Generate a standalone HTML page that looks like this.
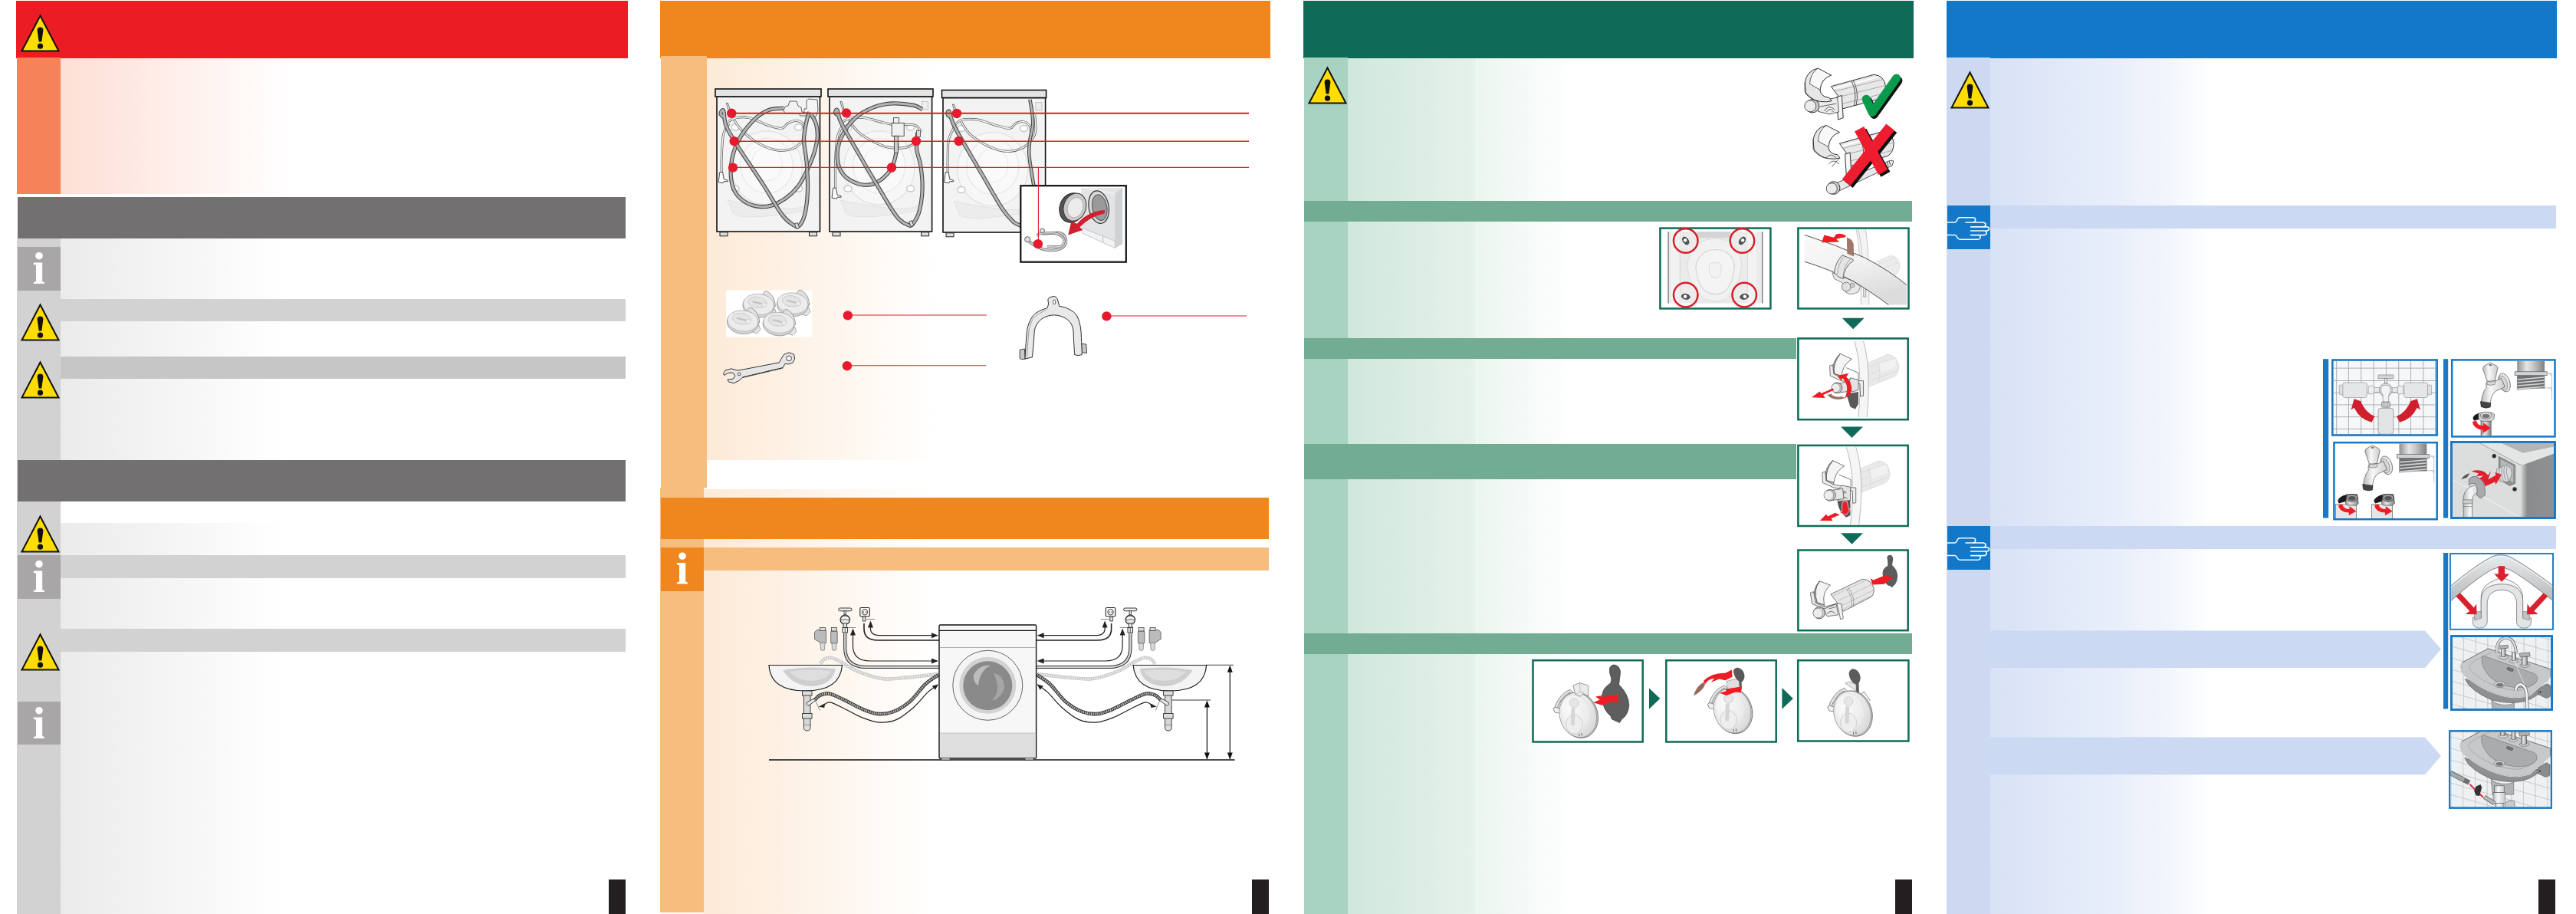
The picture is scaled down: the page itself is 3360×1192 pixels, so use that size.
<!DOCTYPE html>
<html><head><meta charset="utf-8">
<style>
html,body{margin:0;padding:0;background:#fff;}
body{width:3360px;height:1192px;position:relative;overflow:hidden;font-family:"Liberation Sans",sans-serif;}
.a{position:absolute;}
svg{position:absolute;overflow:visible;}
</style></head><body>
<svg width="0" height="0" style="position:absolute">
<defs>
<g id="warn"><path d="M25.5 1.5 L49.5 47.5 L1.5 47.5 Z" fill="#ffdd00" stroke="#111" stroke-width="2" stroke-linejoin="miter"/><path d="M21.6 20.5 Q21.6 16.5 25.5 16.5 Q29.4 16.5 29.4 20.5 L27.3 35.5 L23.7 35.5 Z" fill="#111"/><circle cx="25.5" cy="41.2" r="3.6" fill="#111"/></g>
<g id="info"><circle cx="28" cy="11.7" r="4.8" fill="#fff"/><path d="M20.8 20.5 L32.2 20.5 L32.2 45 L35 46.3 L35 48 L20.8 48 L20.8 46.3 L24 45 L24 23.8 L20.8 22.8 Z" fill="#fff"/></g>
<g id="hand" fill="none" stroke="#f2fbff" stroke-width="1.65" stroke-linecap="round" stroke-linejoin="round"><path d="M0 22 L9.5 22 Q11.5 22 12.5 19.5 Q13.8 15.7 16 15.7 L34 15.7 Q37 16 36.5 19.5 Q36.3 22 34 22"/><path d="M24 22 L47 22 Q50.5 23 50 25 Q49.5 27.8 47.5 27.9"/><path d="M30.6 27.9 L51.5 27.9 Q54.5 28.3 54.5 30.5 Q54.3 33 51 33 L30.6 33"/><path d="M50 33 Q52 35.5 50.5 37.5 Q49.5 38.6 48 38.6 L30.6 38.6"/><path d="M42 38.6 Q44 41 42.5 43 Q41.5 44.2 40 44.2 L16.5 44.2 Q14 44 12.5 41 Q11.5 38.5 9.5 38.5 L0 38.5"/></g>
</defs></svg>

<!-- PANEL 1 -->
<div class="a" style="left:21px;top:1px;width:798px;height:75px;background:#ec1c24"></div>
<div class="a" style="left:22px;top:75px;width:57px;height:178px;background:#f58258"></div>
<div class="a" style="left:79px;top:76px;width:296px;height:177px;background:linear-gradient(90deg,#fddfd5,#fff)"></div>
<div class="a" style="left:22px;top:311px;width:57px;height:881px;background:#d2d2d2"></div>
<div class="a" style="left:79px;top:311px;width:292px;height:289px;background:linear-gradient(90deg,#ebebeb,#fff)"></div>
<div class="a" style="left:79px;top:682px;width:292px;height:510px;background:linear-gradient(90deg,#ebebeb,#fff)"></div>
<div class="a" style="left:23px;top:257px;width:793px;height:54px;background:#727071"></div>
<div class="a" style="left:23px;top:600px;width:793px;height:54px;background:#727071"></div>
<div class="a" style="left:79px;top:390px;width:737px;height:29px;background:#d2d2d2"></div>
<div class="a" style="left:79px;top:465px;width:737px;height:29px;background:#c6c6c6"></div>
<div class="a" style="left:79px;top:724px;width:737px;height:30px;background:#d2d2d2"></div>
<div class="a" style="left:79px;top:820px;width:737px;height:30px;background:#d2d2d2"></div>
<div class="a" style="left:23px;top:322px;width:56px;height:57px;background:#a8a6a7"></div>
<div class="a" style="left:23px;top:724px;width:56px;height:57px;background:#a8a6a7"></div>
<div class="a" style="left:23px;top:915px;width:56px;height:56px;background:#a8a6a7"></div>
<div class="a" style="left:794px;top:1147px;width:22px;height:45px;background:#231f20"></div>
<svg style="left:27px;top:19px" width="51" height="49"><use href="#warn"/></svg>
<svg style="left:27px;top:396px" width="51" height="49"><use href="#warn"/></svg>
<svg style="left:27px;top:471px" width="51" height="49"><use href="#warn"/></svg>
<svg style="left:27px;top:672px" width="51" height="49"><use href="#warn"/></svg>
<svg style="left:27px;top:826px" width="51" height="49"><use href="#warn"/></svg>
<svg style="left:23px;top:322px" width="56" height="57"><use href="#info"/></svg>
<svg style="left:23px;top:724px" width="56" height="57"><use href="#info"/></svg>
<svg style="left:23px;top:915px" width="56" height="57"><use href="#info"/></svg>

<!-- PANEL 2 -->
<div class="a" style="left:922px;top:76px;width:300px;height:524px;background:linear-gradient(90deg,#fdead7,#fff)"></div>
<div class="a" style="left:918px;top:638px;width:300px;height:554px;background:linear-gradient(90deg,#fdead7,#fff)"></div>
<div class="a" style="left:861px;top:1px;width:796px;height:75px;background:#f0861e"></div>
<div class="a" style="left:862px;top:73px;width:60px;height:563px;background:#f7bd7f"></div>
<div class="a" style="left:861px;top:636px;width:57px;height:554px;background:#f7bd7f"></div>
<div class="a" style="left:862px;top:649px;width:793px;height:54px;background:#f0861e"></div>
<div class="a" style="left:918px;top:714px;width:737px;height:30px;background:#f7bd7f"></div>
<div class="a" style="left:862px;top:714px;width:56px;height:57px;background:#f0861e"></div>
<svg style="left:862px;top:714px" width="56" height="57"><use href="#info" y="-0.5"/></svg>
<div class="a" style="left:1633px;top:1147px;width:22px;height:45px;background:#231f20"></div>
<svg style="left:0;top:0" width="3360" height="1192" viewBox="0 0 3360 1192">
<rect x="935.0" y="126.0" width="134.5" height="176.0" fill="#f3f3f3" stroke="#111" stroke-width="1.6"/><ellipse cx="1000.2" cy="219.0" rx="46" ry="48" fill="#f7f7f7" stroke="#e4e4e4" stroke-width="1.5"/><ellipse cx="1000.2" cy="216.0" rx="34" ry="36" fill="#f9f9f9" stroke="#e6e6e6" stroke-width="1.2"/><ellipse cx="1000.2" cy="214.0" rx="20" ry="22" fill="#fafafa" stroke="#e8e8e8" stroke-width="1"/><path d="M949.0 261.0 q106.5 22 106.5 0 l-6 14 q-94.5 16 -94.5 0 Z" fill="#ececec" stroke="#e2e2e2"/><rect x="933.0" y="116.0" width="138.0" height="10" fill="#e4e4e4" stroke="#111" stroke-width="1.6"/><rect x="939.0" y="302.8" width="10" height="5" fill="#ddd" stroke="#222" stroke-width="1"/><rect x="1055.5" y="302.8" width="10" height="5" fill="#ddd" stroke="#222" stroke-width="1"/><ellipse cx="959.0" cy="166.0" rx="5" ry="4" fill="#fff" stroke="#c8c8c8" stroke-width="1.5"/><ellipse cx="1041.5" cy="166.0" rx="5" ry="4" fill="#fff" stroke="#c8c8c8" stroke-width="1.5"/><ellipse cx="959.0" cy="246.0" rx="5" ry="4" fill="#fff" stroke="#c8c8c8" stroke-width="1.5"/><ellipse cx="1041.5" cy="246.0" rx="5" ry="4" fill="#fff" stroke="#c8c8c8" stroke-width="1.5"/>
<path d="M949.9 158.6 C951.6 157.8 955.3 154.5 959.9 153.6 C964.5 152.8 970.3 152.0 977.4 153.6 C984.4 155.3 995.2 161.3 1002.3 163.6 C1009.4 165.9 1015.6 167.8 1019.8 167.3 C1023.9 166.9 1024.3 162.8 1027.3 161.1 C1030.2 159.4 1033.9 157.4 1037.2 157.4 C1040.6 157.4 1045.1 158.2 1047.2 161.1 C1049.3 164.0 1049.3 172.5 1049.7 174.8" fill="none" stroke="#555" stroke-width="3"/><path d="M949.9 158.6 C951.6 157.8 955.3 154.5 959.9 153.6 C964.5 152.8 970.3 152.0 977.4 153.6 C984.4 155.3 995.2 161.3 1002.3 163.6 C1009.4 165.9 1015.6 167.8 1019.8 167.3 C1023.9 166.9 1024.3 162.8 1027.3 161.1 C1030.2 159.4 1033.9 157.4 1037.2 157.4 C1040.6 157.4 1045.1 158.2 1047.2 161.1 C1049.3 164.0 1049.3 172.5 1049.7 174.8" fill="none" stroke="#f4f4f4" stroke-width="1.6"/>
<path d="M957.4 156.1 C959.1 158.4 962.0 164.6 967.4 169.8 C972.8 175.0 981.9 182.9 989.8 187.3 C997.7 191.7 1006.9 195.2 1014.8 196.0 C1022.7 196.9 1031.4 195.0 1037.2 192.3 C1043.1 189.6 1047.6 181.9 1049.7 179.8" fill="none" stroke="#555" stroke-width="3"/><path d="M957.4 156.1 C959.1 158.4 962.0 164.6 967.4 169.8 C972.8 175.0 981.9 182.9 989.8 187.3 C997.7 191.7 1006.9 195.2 1014.8 196.0 C1022.7 196.9 1031.4 195.0 1037.2 192.3 C1043.1 189.6 1047.6 181.9 1049.7 179.8" fill="none" stroke="#f4f4f4" stroke-width="1.6"/>
<path d="M951.2 161.1 C949.9 163.4 945.4 167.6 943.7 174.8 C942.0 182.1 941.6 196.4 941.2 204.8 C940.8 213.1 941.2 221.4 941.2 224.7" fill="none" stroke="#555" stroke-width="3"/><path d="M951.2 161.1 C949.9 163.4 945.4 167.6 943.7 174.8 C942.0 182.1 941.6 196.4 941.2 204.8 C940.8 213.1 941.2 221.4 941.2 224.7" fill="none" stroke="#f4f4f4" stroke-width="1.6"/>
<path d="M938.7 224.7 l4 0 l1.5 9 l5 1.5 l0 1.5 l-5 0 l-1 2 l-6 -1 Z" fill="#fff" stroke="#333" stroke-width="0.9"/>
<path d="M947.4 134.4 l2 0 l3 9 l-2 1 Z" fill="#fff" stroke="#444" stroke-width="0.8"/>
<path d="M1022 144 l2 -5 l4 -1 l2 -6 l9 0 l2 6 l4 2 l1 6 l6 1 l0 4 l-8 0 l-2 -3 l-18 0 Z" fill="#f2f2f2" stroke="#555" stroke-width="0.9"/>
<path d="M1052 131 l3 -2 l11 1 l1 14 l-3 8 l-8 0 l-3 -5 l-4 0 l0 -5 l3 0 Z" fill="#f5f5f5" stroke="#555" stroke-width="0.9"/>
<rect x="1398" y="0" width="0" height="0"/>
<path d="M1022.3 141.2 C1018.9 141.6 1009.0 140.9 1002.3 143.7 C995.7 146.4 989.0 150.5 982.4 157.4 C975.7 164.2 967.2 175.2 962.4 184.8 C957.6 194.4 954.7 204.8 953.7 214.7 C952.6 224.7 953.5 236.8 956.2 244.7 C958.9 252.6 963.9 258.0 969.9 262.1 C975.9 266.3 984.9 269.2 992.3 269.6 C999.8 270.0 1006.9 268.8 1014.8 264.6 C1022.7 260.5 1032.7 253.4 1039.7 244.7 C1046.8 235.9 1052.8 222.6 1057.2 212.2 C1061.6 201.9 1064.7 190.6 1065.9 182.3 C1067.2 174.0 1065.9 167.8 1064.7 162.4 C1063.4 157.0 1059.5 152.0 1058.4 149.9" fill="none" stroke="#4a4a4a" stroke-width="5.2" stroke-linecap="butt"/><path d="M1022.3 141.2 C1018.9 141.6 1009.0 140.9 1002.3 143.7 C995.7 146.4 989.0 150.5 982.4 157.4 C975.7 164.2 967.2 175.2 962.4 184.8 C957.6 194.4 954.7 204.8 953.7 214.7 C952.6 224.7 953.5 236.8 956.2 244.7 C958.9 252.6 963.9 258.0 969.9 262.1 C975.9 266.3 984.9 269.2 992.3 269.6 C999.8 270.0 1006.9 268.8 1014.8 264.6 C1022.7 260.5 1032.7 253.4 1039.7 244.7 C1046.8 235.9 1052.8 222.6 1057.2 212.2 C1061.6 201.9 1064.7 190.6 1065.9 182.3 C1067.2 174.0 1065.9 167.8 1064.7 162.4 C1063.4 157.0 1059.5 152.0 1058.4 149.9" fill="none" stroke="#b4b4b4" stroke-width="3.0" stroke-linecap="butt"/>
<path d="M944.9 153.6 C944.1 152.8 940.2 150.2 940.0 148.6 C939.7 147.1 942.4 141.7 943.7 144.4 C944.9 147.1 943.9 156.5 947.4 164.9 C951.0 173.3 957.0 182.3 964.9 194.8 C972.8 207.3 985.7 225.6 994.8 239.7 C1004.0 253.8 1013.1 270.7 1019.8 279.6 C1026.4 288.5 1031.0 290.8 1034.7 293.3 C1038.5 295.8 1039.7 296.8 1042.2 294.6 C1044.7 292.3 1047.8 287.1 1049.7 279.6 C1051.6 272.1 1053.0 260.9 1053.4 249.7 C1053.9 238.4 1053.0 223.5 1052.2 212.2 C1051.4 201.0 1048.5 191.5 1048.5 182.3 C1048.5 173.2 1051.0 163.4 1052.2 157.4 C1053.4 151.3 1055.3 148.0 1055.9 146.1" fill="none" stroke="#4a4a4a" stroke-width="5.2" stroke-linecap="butt"/><path d="M944.9 153.6 C944.1 152.8 940.2 150.2 940.0 148.6 C939.7 147.1 942.4 141.7 943.7 144.4 C944.9 147.1 943.9 156.5 947.4 164.9 C951.0 173.3 957.0 182.3 964.9 194.8 C972.8 207.3 985.7 225.6 994.8 239.7 C1004.0 253.8 1013.1 270.7 1019.8 279.6 C1026.4 288.5 1031.0 290.8 1034.7 293.3 C1038.5 295.8 1039.7 296.8 1042.2 294.6 C1044.7 292.3 1047.8 287.1 1049.7 279.6 C1051.6 272.1 1053.0 260.9 1053.4 249.7 C1053.9 238.4 1053.0 223.5 1052.2 212.2 C1051.4 201.0 1048.5 191.5 1048.5 182.3 C1048.5 173.2 1051.0 163.4 1052.2 157.4 C1053.4 151.3 1055.3 148.0 1055.9 146.1" fill="none" stroke="#b4b4b4" stroke-width="3.0" stroke-linecap="butt"/>
<rect x="1037.2" y="290.8" width="4" height="7" fill="#ddd" stroke="#444" stroke-width="0.8" transform="rotate(-20 1039.7 293.3)"/>
<rect x="1082.0" y="126.0" width="133.6" height="176.0" fill="#f3f3f3" stroke="#111" stroke-width="1.6"/><ellipse cx="1146.8" cy="219.0" rx="46" ry="48" fill="#f7f7f7" stroke="#e4e4e4" stroke-width="1.5"/><ellipse cx="1146.8" cy="216.0" rx="34" ry="36" fill="#f9f9f9" stroke="#e6e6e6" stroke-width="1.2"/><ellipse cx="1146.8" cy="214.0" rx="20" ry="22" fill="#fafafa" stroke="#e8e8e8" stroke-width="1"/><path d="M1096.0 261.0 q105.6 22 105.6 0 l-6 14 q-93.6 16 -93.6 0 Z" fill="#ececec" stroke="#e2e2e2"/><rect x="1080.0" y="116.0" width="137.0" height="10" fill="#e4e4e4" stroke="#111" stroke-width="1.6"/><rect x="1086.0" y="302.8" width="10" height="5" fill="#ddd" stroke="#222" stroke-width="1"/><rect x="1201.6" y="302.8" width="10" height="5" fill="#ddd" stroke="#222" stroke-width="1"/><ellipse cx="1106.0" cy="166.0" rx="5" ry="4" fill="#fff" stroke="#c8c8c8" stroke-width="1.5"/><ellipse cx="1187.6" cy="166.0" rx="5" ry="4" fill="#fff" stroke="#c8c8c8" stroke-width="1.5"/><ellipse cx="1106.0" cy="246.0" rx="5" ry="4" fill="#fff" stroke="#c8c8c8" stroke-width="1.5"/><ellipse cx="1187.6" cy="246.0" rx="5" ry="4" fill="#fff" stroke="#c8c8c8" stroke-width="1.5"/>
<path d="M1099.6 158.6 C1101.3 157.8 1105.0 154.5 1109.6 153.6 C1114.1 152.8 1120.0 152.6 1127.0 153.6 C1134.1 154.7 1145.7 158.4 1152.0 159.9 C1158.2 161.3 1162.4 161.9 1164.4 162.4" fill="none" stroke="#555" stroke-width="3"/><path d="M1099.6 158.6 C1101.3 157.8 1105.0 154.5 1109.6 153.6 C1114.1 152.8 1120.0 152.6 1127.0 153.6 C1134.1 154.7 1145.7 158.4 1152.0 159.9 C1158.2 161.3 1162.4 161.9 1164.4 162.4" fill="none" stroke="#f4f4f4" stroke-width="1.6"/>
<path d="M1179.4 162.4 C1181.9 162.6 1190.6 161.9 1194.4 163.6 C1198.1 165.3 1200.6 170.9 1201.9 172.3" fill="none" stroke="#555" stroke-width="3"/><path d="M1179.4 162.4 C1181.9 162.6 1190.6 161.9 1194.4 163.6 C1198.1 165.3 1200.6 170.9 1201.9 172.3" fill="none" stroke="#f4f4f4" stroke-width="1.6"/>
<path d="M1107.1 156.1 C1109.2 158.8 1114.1 167.6 1119.6 172.3 C1125.0 177.1 1132.9 181.5 1139.5 184.8 C1146.2 188.1 1152.4 191.0 1159.5 192.3 C1166.5 193.5 1175.7 193.5 1181.9 192.3 C1188.1 191.0 1194.4 186.1 1196.9 184.8" fill="none" stroke="#555" stroke-width="3"/><path d="M1107.1 156.1 C1109.2 158.8 1114.1 167.6 1119.6 172.3 C1125.0 177.1 1132.9 181.5 1139.5 184.8 C1146.2 188.1 1152.4 191.0 1159.5 192.3 C1166.5 193.5 1175.7 193.5 1181.9 192.3 C1188.1 191.0 1194.4 186.1 1196.9 184.8" fill="none" stroke="#f4f4f4" stroke-width="1.6"/>
<path d="M1099.6 162.4 C1098.3 165.3 1093.8 171.5 1092.1 179.8 C1090.4 188.1 1090.0 201.4 1089.6 212.2 C1089.2 223.1 1089.6 239.3 1089.6 244.7" fill="none" stroke="#555" stroke-width="3"/><path d="M1099.6 162.4 C1098.3 165.3 1093.8 171.5 1092.1 179.8 C1090.4 188.1 1090.0 201.4 1089.6 212.2 C1089.2 223.1 1089.6 239.3 1089.6 244.7" fill="none" stroke="#f4f4f4" stroke-width="1.6"/>
<path d="M1086.6 245.2 l4 0 l1.5 9 l5 1.5 l0 1.5 l-5 0 l-1 2 l-6 -1 Z" fill="#fff" stroke="#333" stroke-width="0.9"/>
<path d="M1095.9 132.4 l2 0 l3 9 l-2 1 Z" fill="#fff" stroke="#444" stroke-width="0.8"/>
<rect x="1202.4" y="132.4" width="8" height="10" fill="#eee" stroke="#bbb" stroke-width="0.8"/>
<path d="M1203.1 142.9 C1201.2 142.0 1198.3 138.7 1191.9 137.4 C1185.4 136.1 1173.2 134.5 1164.4 134.9 C1155.7 135.3 1147.8 136.6 1139.5 139.9 C1131.2 143.2 1121.6 148.2 1114.6 154.9 C1107.5 161.5 1100.8 171.5 1097.1 179.8 C1093.4 188.1 1091.7 196.9 1092.1 204.8 C1092.5 212.7 1095.0 221.4 1099.6 227.2 C1104.2 233.0 1112.9 237.6 1119.6 239.7 C1126.2 241.8 1133.3 241.8 1139.5 239.7 C1145.7 237.6 1152.6 231.8 1157.0 227.2 C1161.3 222.6 1163.6 217.7 1165.7 212.2 C1167.8 206.8 1168.8 199.8 1169.4 194.8 C1170.1 189.8 1169.4 184.4 1169.4 182.3" fill="none" stroke="#4a4a4a" stroke-width="5.2" stroke-linecap="butt"/><path d="M1203.1 142.9 C1201.2 142.0 1198.3 138.7 1191.9 137.4 C1185.4 136.1 1173.2 134.5 1164.4 134.9 C1155.7 135.3 1147.8 136.6 1139.5 139.9 C1131.2 143.2 1121.6 148.2 1114.6 154.9 C1107.5 161.5 1100.8 171.5 1097.1 179.8 C1093.4 188.1 1091.7 196.9 1092.1 204.8 C1092.5 212.7 1095.0 221.4 1099.6 227.2 C1104.2 233.0 1112.9 237.6 1119.6 239.7 C1126.2 241.8 1133.3 241.8 1139.5 239.7 C1145.7 237.6 1152.6 231.8 1157.0 227.2 C1161.3 222.6 1163.6 217.7 1165.7 212.2 C1167.8 206.8 1168.8 199.8 1169.4 194.8 C1170.1 189.8 1169.4 184.4 1169.4 182.3" fill="none" stroke="#b4b4b4" stroke-width="3.0" stroke-linecap="butt"/>
<path d="M1094.6 151.1 C1093.8 150.5 1090.0 148.6 1089.6 147.4 C1089.2 146.1 1090.9 141.6 1092.1 143.7 C1093.4 145.7 1092.5 150.5 1097.1 159.9 C1101.7 169.2 1111.7 186.1 1119.6 199.8 C1127.4 213.5 1136.2 228.5 1144.5 242.2 C1152.8 255.9 1162.8 273.6 1169.4 282.1 C1176.1 290.6 1180.9 291.7 1184.4 293.3 C1187.9 295.0 1188.1 295.2 1190.6 292.1 C1193.1 288.9 1197.3 282.5 1199.4 274.6 C1201.5 266.7 1202.9 254.7 1203.1 244.7 C1203.3 234.7 1201.9 223.1 1200.6 214.7 C1199.4 206.4 1196.3 201.9 1195.6 194.8 C1195.0 187.7 1196.7 176.1 1196.9 172.3" fill="none" stroke="#4a4a4a" stroke-width="5.2" stroke-linecap="butt"/><path d="M1094.6 151.1 C1093.8 150.5 1090.0 148.6 1089.6 147.4 C1089.2 146.1 1090.9 141.6 1092.1 143.7 C1093.4 145.7 1092.5 150.5 1097.1 159.9 C1101.7 169.2 1111.7 186.1 1119.6 199.8 C1127.4 213.5 1136.2 228.5 1144.5 242.2 C1152.8 255.9 1162.8 273.6 1169.4 282.1 C1176.1 290.6 1180.9 291.7 1184.4 293.3 C1187.9 295.0 1188.1 295.2 1190.6 292.1 C1193.1 288.9 1197.3 282.5 1199.4 274.6 C1201.5 266.7 1202.9 254.7 1203.1 244.7 C1203.3 234.7 1201.9 223.1 1200.6 214.7 C1199.4 206.4 1196.3 201.9 1195.6 194.8 C1195.0 187.7 1196.7 176.1 1196.9 172.3" fill="none" stroke="#b4b4b4" stroke-width="3.0" stroke-linecap="butt"/>
<rect x="1163.2" y="160.4" width="16" height="17" fill="#f0f0f0" stroke="#444" stroke-width="0.9"/>
<rect x="1165.4" y="153.6" width="7" height="7" fill="#f0f0f0" stroke="#444" stroke-width="0.9"/>
<rect x="1166.4" y="177.3" width="5" height="22" fill="#ccc" stroke="#444" stroke-width="0.9"/>
<rect x="1195.6" y="170.3" width="5" height="8" fill="#ddd" stroke="#444" stroke-width="0.8"/>
<rect x="1186.4" y="288.3" width="4" height="7" fill="#ddd" stroke="#444" stroke-width="0.8" transform="rotate(-20 1188.1 290.8)"/>
<rect x="1230.0" y="127.5" width="133.6" height="175.5" fill="#f3f3f3" stroke="#111" stroke-width="1.6"/><ellipse cx="1294.8" cy="220.5" rx="46" ry="48" fill="#f7f7f7" stroke="#e4e4e4" stroke-width="1.5"/><ellipse cx="1294.8" cy="217.5" rx="34" ry="36" fill="#f9f9f9" stroke="#e6e6e6" stroke-width="1.2"/><ellipse cx="1294.8" cy="215.5" rx="20" ry="22" fill="#fafafa" stroke="#e8e8e8" stroke-width="1"/><path d="M1244.0 262.5 q105.6 22 105.6 0 l-6 14 q-93.6 16 -93.6 0 Z" fill="#ececec" stroke="#e2e2e2"/><rect x="1228.5" y="117.5" width="136.1" height="10" fill="#e4e4e4" stroke="#111" stroke-width="1.6"/><rect x="1234.0" y="303.8" width="10" height="5" fill="#ddd" stroke="#222" stroke-width="1"/><rect x="1349.6" y="303.8" width="10" height="5" fill="#ddd" stroke="#222" stroke-width="1"/><ellipse cx="1254.0" cy="167.5" rx="5" ry="4" fill="#fff" stroke="#c8c8c8" stroke-width="1.5"/><ellipse cx="1335.6" cy="167.5" rx="5" ry="4" fill="#fff" stroke="#c8c8c8" stroke-width="1.5"/><ellipse cx="1254.0" cy="247.5" rx="5" ry="4" fill="#fff" stroke="#c8c8c8" stroke-width="1.5"/><ellipse cx="1335.6" cy="247.5" rx="5" ry="4" fill="#fff" stroke="#c8c8c8" stroke-width="1.5"/>
<path d="M1246.1 162.4 C1247.6 161.3 1250.1 157.2 1254.9 156.1 C1259.7 155.1 1267.3 154.9 1274.8 156.1 C1282.3 157.4 1292.7 161.7 1299.8 163.6 C1306.8 165.5 1313.1 167.8 1317.2 167.3 C1321.4 166.9 1321.8 162.6 1324.7 161.1 C1327.6 159.7 1331.6 158.0 1334.7 158.6 C1337.8 159.2 1341.8 161.3 1343.4 164.9 C1345.1 168.4 1344.5 177.3 1344.7 179.8" fill="none" stroke="#555" stroke-width="3"/><path d="M1246.1 162.4 C1247.6 161.3 1250.1 157.2 1254.9 156.1 C1259.7 155.1 1267.3 154.9 1274.8 156.1 C1282.3 157.4 1292.7 161.7 1299.8 163.6 C1306.8 165.5 1313.1 167.8 1317.2 167.3 C1321.4 166.9 1321.8 162.6 1324.7 161.1 C1327.6 159.7 1331.6 158.0 1334.7 158.6 C1337.8 159.2 1341.8 161.3 1343.4 164.9 C1345.1 168.4 1344.5 177.3 1344.7 179.8" fill="none" stroke="#f4f4f4" stroke-width="1.6"/>
<path d="M1253.6 158.6 C1255.5 161.3 1259.2 169.6 1264.9 174.8 C1270.5 180.0 1279.4 186.1 1287.3 189.8 C1295.2 193.5 1304.3 196.9 1312.2 197.3 C1320.1 197.7 1328.9 195.2 1334.7 192.3 C1340.5 189.4 1344.5 183.6 1347.2 179.8 C1349.9 176.1 1350.5 174.8 1350.9 169.8 C1351.3 164.9 1349.9 153.2 1349.7 149.9" fill="none" stroke="#555" stroke-width="3"/><path d="M1253.6 158.6 C1255.5 161.3 1259.2 169.6 1264.9 174.8 C1270.5 180.0 1279.4 186.1 1287.3 189.8 C1295.2 193.5 1304.3 196.9 1312.2 197.3 C1320.1 197.7 1328.9 195.2 1334.7 192.3 C1340.5 189.4 1344.5 183.6 1347.2 179.8 C1349.9 176.1 1350.5 174.8 1350.9 169.8 C1351.3 164.9 1349.9 153.2 1349.7 149.9" fill="none" stroke="#f4f4f4" stroke-width="1.6"/>
<path d="M1244.9 164.9 C1243.7 167.8 1238.9 175.7 1237.4 182.3 C1236.0 189.0 1236.4 197.7 1236.2 204.8 C1236.0 211.8 1236.2 221.4 1236.2 224.7" fill="none" stroke="#555" stroke-width="3"/><path d="M1244.9 164.9 C1243.7 167.8 1238.9 175.7 1237.4 182.3 C1236.0 189.0 1236.4 197.7 1236.2 204.8 C1236.0 211.8 1236.2 221.4 1236.2 224.7" fill="none" stroke="#f4f4f4" stroke-width="1.6"/>
<path d="M1233.2 224.7 l4 0 l1.5 9 l5 1.5 l0 1.5 l-5 0 l-1 2 l-6 -1 Z" fill="#fff" stroke="#333" stroke-width="0.9"/>
<path d="M1242.4 136.2 l2 0 l3 9 l-2 1 Z" fill="#fff" stroke="#444" stroke-width="0.8"/>
<rect x="1350.9" y="133.7" width="8" height="10" fill="#eee" stroke="#bbb" stroke-width="0.8"/>
<path d="M1343.4 129.9 C1343.8 132.4 1345.3 139.5 1345.9 144.9 C1346.5 150.3 1347.6 156.1 1347.2 162.4 C1346.8 168.6 1344.3 176.1 1343.4 182.3 C1342.6 188.6 1342.0 193.5 1342.2 199.8 C1342.4 206.0 1343.6 212.7 1344.7 219.7 C1345.7 226.8 1347.8 238.4 1348.4 242.2" fill="none" stroke="#4a4a4a" stroke-width="4.6" stroke-linecap="butt"/><path d="M1343.4 129.9 C1343.8 132.4 1345.3 139.5 1345.9 144.9 C1346.5 150.3 1347.6 156.1 1347.2 162.4 C1346.8 168.6 1344.3 176.1 1343.4 182.3 C1342.6 188.6 1342.0 193.5 1342.2 199.8 C1342.4 206.0 1343.6 212.7 1344.7 219.7 C1345.7 226.8 1347.8 238.4 1348.4 242.2" fill="none" stroke="#b4b4b4" stroke-width="2.4" stroke-linecap="butt"/>
<path d="M1241.9 153.6 C1240.9 153.0 1236.8 151.3 1236.2 149.9 C1235.5 148.5 1236.7 143.3 1237.9 145.4 C1239.2 147.5 1240.4 155.4 1243.7 162.4 C1246.9 169.3 1250.9 176.1 1257.4 187.3 C1263.8 198.5 1274.0 215.6 1282.3 229.7 C1290.6 243.8 1300.6 262.1 1307.3 272.1 C1313.9 282.1 1317.9 285.7 1322.2 289.6 C1326.6 293.4 1331.6 294.1 1333.4 295.1" fill="none" stroke="#4a4a4a" stroke-width="5.2" stroke-linecap="butt"/><path d="M1241.9 153.6 C1240.9 153.0 1236.8 151.3 1236.2 149.9 C1235.5 148.5 1236.7 143.3 1237.9 145.4 C1239.2 147.5 1240.4 155.4 1243.7 162.4 C1246.9 169.3 1250.9 176.1 1257.4 187.3 C1263.8 198.5 1274.0 215.6 1282.3 229.7 C1290.6 243.8 1300.6 262.1 1307.3 272.1 C1313.9 282.1 1317.9 285.7 1322.2 289.6 C1326.6 293.4 1331.6 294.1 1333.4 295.1" fill="none" stroke="#b4b4b4" stroke-width="3.0" stroke-linecap="butt"/>
<path d="M954 147.8 H1629" stroke="#d8202a" stroke-width="2"/>
<path d="M957 184.2 H1629" stroke="#d8202a" stroke-width="1.5"/>
<path d="M956 218.4 H1629" stroke="#d8202a" stroke-width="1.1"/>
<circle cx="954.2" cy="147.8" r="6.2" fill="#e8192c"/>
<circle cx="957.7" cy="184.2" r="6.2" fill="#e8192c"/>
<circle cx="956.0" cy="218.6" r="6.2" fill="#e8192c"/>
<circle cx="1104.0" cy="147.4" r="6.2" fill="#e8192c"/>
<circle cx="1195.0" cy="184.0" r="6.2" fill="#e8192c"/>
<circle cx="1163.0" cy="218.5" r="6.2" fill="#e8192c"/>
<circle cx="1248.0" cy="148.0" r="6.2" fill="#e8192c"/>
<circle cx="1250.6" cy="184.0" r="6.2" fill="#e8192c"/>
<rect x="1331.3" y="242.2" width="137.5" height="99.5" fill="#fff" stroke="#111" stroke-width="2.2"/>
<polygon points="1410.4,244.9 1464.2,244.9 1464.2,317.8 1454.3,323.8 1410.4,297.3" fill="#e2e4e6"/>
<polygon points="1454.3,252.4 1464.2,244.9 1464.2,317.8 1454.3,323.8" fill="#cfd2d5"/>
<polygon points="1410.4,244.9 1427.2,244.9 1454.3,252.4 1454.3,254.2" fill="#eeeff0"/>
<polygon points="1411.3,297.3 1454.3,314.1 1454.3,323.5 1411.3,303.8" fill="#f3f3f3" stroke="#bbb" stroke-width="0.8"/>
<path d="M1438.4 307.9 C1438.5 309.3 1438.7 314.6 1438.8 316.0" stroke="#aaa" stroke-width="0.8" fill="none"/>
<ellipse cx="1433.2" cy="270.1" rx="13" ry="21.5" fill="#d8d8d8" stroke="#333" stroke-width="1.2" transform="rotate(-10 1433.2 270.1)"/>
<ellipse cx="1434.3" cy="270.7" rx="9.5" ry="17" fill="#9a9a9a" stroke="#555" stroke-width="1" transform="rotate(-10 1434.3 270.7)"/>
<ellipse cx="1398.2" cy="271.1" rx="16" ry="19.5" fill="#555" stroke="#222" stroke-width="1" transform="rotate(18 1398.2 271.1)"/>
<ellipse cx="1401.9" cy="270.1" rx="14.5" ry="18.5" fill="#c9c9c9" stroke="#333" stroke-width="1" transform="rotate(18 1401.9 270.1)"/>
<ellipse cx="1402.5" cy="270.7" rx="10" ry="13.5" fill="#ececec" stroke="#aaa" stroke-width="0.8" transform="rotate(18 1402.5 270.7)"/>
<path d=" Z" fill="#d0202e"/>
<path d="M1441.2 273.9 Q1419.7 274.8 1404.8 291.7 L1397.3 288.9 L1393.2 306.6 L1412.2 300.1 L1408.5 296.3 Q1421.6 282.3 1440.7 278.2 Z" fill="#d0202e"/>
<path d="M1340.2 312.2 C1341.0 313.0 1341.3 314.7 1344.9 316.9 C1348.5 319.1 1356.1 323.9 1361.7 325.3 C1367.3 326.8 1374.0 326.6 1378.6 325.7 C1383.1 324.8 1387.0 322.3 1388.9 319.7 C1390.7 317.2 1390.9 313.0 1389.8 310.4 C1388.7 307.7 1387.0 304.8 1382.3 303.8 C1377.6 302.9 1365.6 305.1 1361.7 304.8 C1357.8 304.4 1359.4 302.4 1358.9 301.9" fill="none" stroke="#666" stroke-width="3.6" stroke-linecap="butt"/><path d="M1340.2 312.2 C1341.0 313.0 1341.3 314.7 1344.9 316.9 C1348.5 319.1 1356.1 323.9 1361.7 325.3 C1367.3 326.8 1374.0 326.6 1378.6 325.7 C1383.1 324.8 1387.0 322.3 1388.9 319.7 C1390.7 317.2 1390.9 313.0 1389.8 310.4 C1388.7 307.7 1387.0 304.8 1382.3 303.8 C1377.6 302.9 1365.6 305.1 1361.7 304.8 C1357.8 304.4 1359.4 302.4 1358.9 301.9" fill="none" stroke="#d0d0d0" stroke-width="2.0" stroke-linecap="butt"/>
<path d="M1353.3 308.5 C1353.8 307.9 1352.5 305.5 1356.1 304.8 C1359.7 304.0 1370.0 303.2 1374.8 303.8 C1379.7 304.4 1382.9 306.5 1385.1 308.5 C1387.3 310.5 1388.4 313.8 1387.9 316.0 C1387.4 318.2 1386.0 320.7 1382.3 321.6 C1378.6 322.5 1368.3 321.6 1365.5 321.6" fill="none" stroke="#777" stroke-width="3.2" stroke-linecap="butt"/><path d="M1353.3 308.5 C1353.8 307.9 1352.5 305.5 1356.1 304.8 C1359.7 304.0 1370.0 303.2 1374.8 303.8 C1379.7 304.4 1382.9 306.5 1385.1 308.5 C1387.3 310.5 1388.4 313.8 1387.9 316.0 C1387.4 318.2 1386.0 320.7 1382.3 321.6 C1378.6 322.5 1368.3 321.6 1365.5 321.6" fill="none" stroke="#d8d8d8" stroke-width="1.6" stroke-linecap="butt"/>
<circle cx="1340.2" cy="312.2" r="3.6" fill="#ddd" stroke="#666" stroke-width="1"/>
<circle cx="1359.5" cy="301.0" r="3" fill="#ddd" stroke="#666" stroke-width="1"/>
<path d="M1354.4 218.4 V318" stroke="#d8202a" stroke-width="1.1"/>
<circle cx="1353.9" cy="318.2" r="6.2" fill="#e8192c"/>
<rect x="947" y="378.5" width="112" height="61" fill="#fff"/>
<path d="M994.5 384.5 q3 -7 7 -4 q9 5 10 19 l-3 1 q-2 -11 -9 -14 Z" fill="#e0e0e0" stroke="#888" stroke-width="0.8"/><path d="M1001.5 405.5 l9 -3 l2 6 l-5 5 l-8 -3 Z" fill="#e6e6e6" stroke="#999" stroke-width="0.8"/><ellipse cx="989.5" cy="399.0" rx="20.5" ry="15" fill="#d4d4d4" stroke="#999" stroke-width="0.9" transform="rotate(6 989.5 397.5)"/><ellipse cx="989.5" cy="397.0" rx="20" ry="13.5" fill="#ececec" stroke="#aaa" stroke-width="0.7" transform="rotate(6 989.5 397.5)"/><ellipse cx="987.5" cy="394.5" rx="12" ry="7" fill="#e4e4e4" stroke="#c4c4c4" stroke-width="0.8" transform="rotate(8 989.5 397.5)"/><path d="M982.5 393.5 l12 3" stroke="#c0c0c0" stroke-width="2.2" stroke-linecap="round"/><circle cx="996.5" cy="397.5" r="3" fill="#eee" stroke="#c4c4c4" stroke-width="0.7"/>
<path d="M1038.9 383.0 q3 -7 7 -4 q9 5 10 19 l-3 1 q-2 -11 -9 -14 Z" fill="#e0e0e0" stroke="#888" stroke-width="0.8"/><path d="M1045.9 404.0 l9 -3 l2 6 l-5 5 l-8 -3 Z" fill="#e6e6e6" stroke="#999" stroke-width="0.8"/><ellipse cx="1033.9" cy="397.5" rx="20.5" ry="15" fill="#d4d4d4" stroke="#999" stroke-width="0.9" transform="rotate(6 1033.9 396.0)"/><ellipse cx="1033.9" cy="395.5" rx="20" ry="13.5" fill="#ececec" stroke="#aaa" stroke-width="0.7" transform="rotate(6 1033.9 396.0)"/><ellipse cx="1031.9" cy="393.0" rx="12" ry="7" fill="#e4e4e4" stroke="#c4c4c4" stroke-width="0.8" transform="rotate(8 1033.9 396.0)"/><path d="M1026.9 392.0 l12 3" stroke="#c0c0c0" stroke-width="2.2" stroke-linecap="round"/><circle cx="1040.9" cy="396.0" r="3" fill="#eee" stroke="#c4c4c4" stroke-width="0.7"/>
<path d="M973.9 406.0 q3 -7 7 -4 q9 5 10 19 l-3 1 q-2 -11 -9 -14 Z" fill="#e0e0e0" stroke="#888" stroke-width="0.8"/><path d="M980.9 427.0 l9 -3 l2 6 l-5 5 l-8 -3 Z" fill="#e6e6e6" stroke="#999" stroke-width="0.8"/><ellipse cx="968.9" cy="420.5" rx="20.5" ry="15" fill="#d4d4d4" stroke="#999" stroke-width="0.9" transform="rotate(6 968.9 419.0)"/><ellipse cx="968.9" cy="418.5" rx="20" ry="13.5" fill="#ececec" stroke="#aaa" stroke-width="0.7" transform="rotate(6 968.9 419.0)"/><ellipse cx="966.9" cy="416.0" rx="12" ry="7" fill="#e4e4e4" stroke="#c4c4c4" stroke-width="0.8" transform="rotate(8 968.9 419.0)"/><path d="M961.9 415.0 l12 3" stroke="#c0c0c0" stroke-width="2.2" stroke-linecap="round"/><circle cx="975.9" cy="419.0" r="3" fill="#eee" stroke="#c4c4c4" stroke-width="0.7"/>
<path d="M1020.7 408.3 q3 -7 7 -4 q9 5 10 19 l-3 1 q-2 -11 -9 -14 Z" fill="#e0e0e0" stroke="#888" stroke-width="0.8"/><path d="M1027.7 429.3 l9 -3 l2 6 l-5 5 l-8 -3 Z" fill="#e6e6e6" stroke="#999" stroke-width="0.8"/><ellipse cx="1015.7" cy="422.8" rx="20.5" ry="15" fill="#d4d4d4" stroke="#999" stroke-width="0.9" transform="rotate(6 1015.7 421.3)"/><ellipse cx="1015.7" cy="420.8" rx="20" ry="13.5" fill="#ececec" stroke="#aaa" stroke-width="0.7" transform="rotate(6 1015.7 421.3)"/><ellipse cx="1013.7" cy="418.3" rx="12" ry="7" fill="#e4e4e4" stroke="#c4c4c4" stroke-width="0.8" transform="rotate(8 1015.7 421.3)"/><path d="M1008.7 417.3 l12 3" stroke="#c0c0c0" stroke-width="2.2" stroke-linecap="round"/><circle cx="1022.7" cy="421.3" r="3" fill="#eee" stroke="#c4c4c4" stroke-width="0.7"/>
<polygon points="943.5,487.1 945.9,483.1 953.8,480.8 961.7,483.1 967.3,482.3 1016.4,472.8 1018.8,468.1 1022.8,462.1 1029.1,459.8 1035.5,462.1 1036.6,468.1 1033.9,473.2 1028.3,474.9 1023.9,474.4 1021.2,479.5 968.9,491.9 964.1,496.3 957.0,499.8 950.3,497.9 949.0,495.0 956.2,494.2 958.9,490.3 956.2,486.3 949.8,486.3 944.6,489.5" fill="#e6e6e6" stroke="#333" stroke-width="1" stroke-linejoin="round"/>
<path d="M968.9 492.3 L1021.2 480.0" stroke="#222" stroke-width="1.4" stroke-dasharray="1 0.8"/>
<circle cx="1029.1" cy="467.3" r="3.4" fill="#fdf3e8" stroke="#333" stroke-width="0.9"/>
<circle cx="964.1" cy="487.9" r="1.9" fill="#fdf3e8" stroke="#333" stroke-width="0.9"/>
<polygon points="1330.1,456.2 1336.4,454.9 1337.0,468.1 1332.6,468.7 1330.1,467.5" fill="#c8c8c8" stroke="#333" stroke-width="0.9"/>
<polygon points="1410.6,448.2 1416.9,449.0 1417.5,460.6 1411.3,459.6" fill="#c8c8c8" stroke="#333" stroke-width="0.9"/>
<path d="M1337.0 468.1 C1337.3 464.3 1337.7 452.6 1338.3 445.5 C1338.9 438.3 1339.2 431.0 1340.8 425.3 C1342.4 419.7 1345.1 414.9 1347.7 411.5 C1350.4 408.2 1353.5 406.9 1356.5 405.2 C1359.6 403.6 1364.4 402.3 1366.0 401.7 L1367.6 396.7 L1366.9 390.8 Q1367.2 387.4 1374.2 386.7 Q1378.6 386.4 1379.8 392.0 L1381.9 399.6L1381.9 399.6 C1383.4 399.9 1387.0 399.8 1390.5 401.4 C1394.0 403.1 1400.0 405.6 1403.1 409.6 C1406.2 413.6 1407.9 419.4 1409.1 425.3 C1410.4 431.3 1410.3 439.3 1410.6 445.5 C1411.0 451.7 1411.2 459.6 1411.3 462.5 L1406.2 463.7 L1401.6 462.5L1401.6 462.5 C1401.4 459.6 1401.0 451.4 1400.6 445.5 C1400.1 439.5 1400.7 431.6 1399.1 426.6 C1397.4 421.6 1394.4 418.2 1390.5 415.5 C1386.6 412.9 1380.4 411.0 1375.4 410.9 C1370.4 410.8 1364.5 412.3 1360.3 414.9 C1356.2 417.5 1352.5 421.5 1350.5 426.6 C1348.5 431.7 1349.0 438.9 1348.4 445.5 C1347.7 452.0 1346.8 462.5 1346.5 465.8 Z" fill="#e9e9e9" stroke="#2a2a2a" stroke-width="1"/>
<ellipse cx="1375.2" cy="393.9" rx="1.6" ry="3" fill="#fff" stroke="#333" stroke-width="0.8"/>
<path d="M1339.6 465.6 C1339.8 462.2 1340.3 452.0 1340.8 445.5 C1341.4 439.0 1341.5 431.9 1343.0 426.6 C1344.4 421.3 1345.9 417.2 1349.6 413.4 C1353.4 409.6 1362.7 405.3 1365.3 403.7" fill="none" stroke="#777" stroke-width="0.70" />
<path d="M1105.8 411.0 H1287.0" stroke="#d8202a" stroke-width="1.1"/>
<circle cx="1105.8" cy="411.4" r="6.2" fill="#e8192c"/>
<path d="M1104.9 476.8 H1286.0" stroke="#d8202a" stroke-width="1.1"/>
<circle cx="1104.9" cy="477.2" r="6.2" fill="#e8192c"/>
<path d="M1443.4 412.0 H1626.0" stroke="#d8202a" stroke-width="1.1"/>
<circle cx="1443.4" cy="412.4" r="6.2" fill="#e8192c"/>
<g><path d="M1003 867.5 L1098.5 867.5 Q1096 901 1050.5 901 Q1005 901 1003 867.5 Z" fill="#f4f4f4" stroke="#222" stroke-width="1.2"/>
<path d="M1021 874 Q1050 868 1090 872 Q1086 893 1060 895 Q1034 895 1021 874 Z" fill="#cfcfcf"/>
<path d="M1030 876 Q1055 872 1084 875 Q1080 886 1060 888 Q1040 888 1030 876 Z" fill="#dedede"/>
<rect x="1048.5" y="901" width="8.5" height="45" fill="#d8d8d8" stroke="#333" stroke-width="0.9"/>
<path d="M1048.5 946 v3 q0 4 4.2 4 q4.3 0 4.3 -4 v-3" fill="#ddd" stroke="#333" stroke-width="0.9"/>
<rect x="1046.5" y="930.5" width="12.5" height="6.5" fill="#ddd" stroke="#333" stroke-width="0.9"/>
<rect x="1046.5" y="901" width="12.5" height="6" fill="#ddd" stroke="#333" stroke-width="0.9"/>
<path d="M1054 920.5 l9.5 -6.5 l-2 -3 l-9 5 q-1.5 3 1.5 4.500 Z" fill="#e8e8e8" stroke="#333" stroke-width="0.9"/>
<path d="M1069.8 866.0 C1070.7 865.0 1072.3 861.2 1074.8 859.8 C1077.3 858.4 1081.0 857.2 1084.8 857.8 C1088.5 858.4 1091.4 860.5 1097.3 863.5 C1103.1 866.6 1110.6 872.4 1119.7 876.0 C1128.9 879.6 1141.3 884.0 1152.1 885.2 C1162.9 886.5 1172.7 884.5 1184.6 883.5 C1196.4 882.5 1216.8 879.8 1223.2 879.0" fill="none" stroke="#c9c9c9" stroke-width="4.4"/><path d="M1069.8 866.0 C1070.7 865.0 1072.3 861.2 1074.8 859.8 C1077.3 858.4 1081.0 857.2 1084.8 857.8 C1088.5 858.4 1091.4 860.5 1097.3 863.5 C1103.1 866.6 1110.6 872.4 1119.7 876.0 C1128.9 879.6 1141.3 884.0 1152.1 885.2 C1162.9 886.5 1172.7 884.5 1184.6 883.5 C1196.4 882.5 1216.8 879.8 1223.2 879.0" fill="none" stroke="#ececec" stroke-width="2.6" stroke-dasharray="1.6 1.4"/>
<path d="M1062.3 913.4 C1063.6 912.3 1066.5 908.1 1069.8 906.7 C1073.1 905.2 1076.9 903.6 1082.3 904.7 C1087.7 905.8 1095.2 910.1 1102.2 913.4 C1109.3 916.8 1117.6 921.7 1124.7 924.7 C1131.8 927.6 1138.0 930.3 1144.7 930.9 C1151.3 931.5 1157.5 931.1 1164.6 928.4 C1171.7 925.7 1180.0 920.7 1187.1 914.7 C1194.1 908.6 1200.8 898.0 1207.0 892.2 C1213.2 886.4 1221.6 881.8 1224.5 879.8" fill="none" stroke="#3c3c3c" stroke-width="4.6"/><path d="M1062.3 913.4 C1063.6 912.3 1066.5 908.1 1069.8 906.7 C1073.1 905.2 1076.9 903.6 1082.3 904.7 C1087.7 905.8 1095.2 910.1 1102.2 913.4 C1109.3 916.8 1117.6 921.7 1124.7 924.7 C1131.8 927.6 1138.0 930.3 1144.7 930.9 C1151.3 931.5 1157.5 931.1 1164.6 928.4 C1171.7 925.7 1180.0 920.7 1187.1 914.7 C1194.1 908.6 1200.8 898.0 1207.0 892.2 C1213.2 886.4 1221.6 881.8 1224.5 879.8" fill="none" stroke="#c8c8c8" stroke-width="2.8" stroke-dasharray="1.3 1.3"/>
<path d="M1073.6 920.4 C1075.0 919.7 1077.5 915.2 1082.3 915.9 C1087.1 916.6 1095.2 921.3 1102.2 924.7 C1109.3 928.0 1117.2 933.0 1124.7 935.9 C1132.2 938.8 1139.7 941.7 1147.1 942.1 C1154.6 942.5 1162.1 941.7 1169.6 938.4 C1177.1 935.0 1185.4 928.0 1192.0 922.2 C1198.7 916.3 1204.7 908.0 1209.5 903.4 C1214.3 898.9 1218.9 896.2 1220.7 894.7" fill="none" stroke="#222" stroke-width="1.2"/>
<polygon points="1067.8,921.7 1076.1,917.2 1075.3,922.9" fill="#222"/>
<polygon points="1224.0,892.2 1215.7,894.7 1220.0,899.7" fill="#222"/>
<path d="M1064.8 915.9 L1069.3 926.6" stroke="#555" stroke-width="0.7"/>
<path d="M1102.2 826 V845 Q1102.2 870 1130 870 H1225" fill="none" stroke="#333" stroke-width="4.2"/><path d="M1102.2 826 V845 Q1102.2 870 1130 870 H1225" fill="none" stroke="#d4d4d4" stroke-width="2.2"/>
<path d="M1112.5 826 V842 Q1112.5 862 1135 862 H1216" fill="none" stroke="#222" stroke-width="1.2"/>
<polygon points="1112.5,819.5 1109,828.5 1116,828.5" fill="#222"/>
<polygon points="1224,862 1215,858.500 1215,865.500" fill="#222"/>
<path d="M1104 818.5 H1116" stroke="#555" stroke-width="0.7"/>
<path d="M1127 813 V820 Q1127 835 1145 835 H1225" fill="none" stroke="#222" stroke-width="1.6"/>
<path d="M1135.500 817 V820 Q1135.500 828.700 1148 828.700 H1216" fill="none" stroke="#222" stroke-width="1.2"/>
<polygon points="1135.500,809.500 1132,818.500 1139,818.500" fill="#222"/>
<polygon points="1224,828.700 1215,825.200 1215,832.200" fill="#222"/>
<path d="M1130 807.500 H1141" stroke="#555" stroke-width="0.7"/>
<rect x="1121.800" y="792.500" width="12.500" height="11.500" rx="1.5" fill="#fff" stroke="#222" stroke-width="1.1"/>
<circle cx="1128" cy="798.200" r="3.800" fill="#eee" stroke="#333" stroke-width="0.9"/>
<circle cx="1126.3" cy="798.200" r="0.7" fill="#222"/><circle cx="1129.7" cy="798.200" r="0.7" fill="#222"/>
<rect x="1125.300" y="804" width="3.500" height="6" fill="#ddd" stroke="#222" stroke-width="0.8"/>
<rect x="1093.700" y="793" width="17.300" height="3.800" rx="1.900" fill="#eee" stroke="#222" stroke-width="0.9"/>
<rect x="1101" y="796.800" width="2.600" height="5" fill="#ddd" stroke="#222" stroke-width="0.7"/>
<circle cx="1102.300" cy="808.200" r="6.200" fill="#e4e4e4" stroke="#222" stroke-width="1.100"/>
<path d="M1096.500 806 q6 -5 11.500 0 l-1.500 3 q-4.500 -3.500 -8.500 0 Z" fill="#fff" stroke="#222" stroke-width="0.7"/>
<rect x="1100" y="813" width="4.600" height="6" fill="#ddd" stroke="#222" stroke-width="0.8"/>
<rect x="1099" y="818.500" width="6.600" height="6.500" fill="#eee" stroke="#222" stroke-width="0.9"/>
<path d="M1102.300 818.500 v6.500" stroke="#222" stroke-width="0.7"/>
<path d="M1062.500 824.500 l3 -3 h12 v17 h-7 l-8 -5 Z" fill="#bbb" stroke="#555" stroke-width="0.8"/>
<rect x="1069.500" y="818.500" width="7" height="4" fill="#ddd" stroke="#444" stroke-width="0.8"/>
<path d="M1070 838.500 h6 l-0.500 9 q-2.500 2 -5 0 Z" fill="#d8d8d8" stroke="#777" stroke-width="0.7"/>
<rect x="1083.700" y="823" width="8.500" height="16" rx="1" fill="#bbb" stroke="#555" stroke-width="0.8"/>
<rect x="1084.500" y="818.500" width="7" height="4.500" fill="#ddd" stroke="#444" stroke-width="0.8"/>
<path d="M1085 839 h6 l-0.500 8.500 q-2.500 2 -5 0 Z" fill="#d8d8d8" stroke="#777" stroke-width="0.7"/></g>
<g transform="translate(2576.6 0) scale(-1 1)"><path d="M1003 867.5 L1098.5 867.5 Q1096 901 1050.5 901 Q1005 901 1003 867.5 Z" fill="#f4f4f4" stroke="#222" stroke-width="1.2"/>
<path d="M1021 874 Q1050 868 1090 872 Q1086 893 1060 895 Q1034 895 1021 874 Z" fill="#cfcfcf"/>
<path d="M1030 876 Q1055 872 1084 875 Q1080 886 1060 888 Q1040 888 1030 876 Z" fill="#dedede"/>
<rect x="1048.5" y="901" width="8.5" height="45" fill="#d8d8d8" stroke="#333" stroke-width="0.9"/>
<path d="M1048.5 946 v3 q0 4 4.2 4 q4.3 0 4.3 -4 v-3" fill="#ddd" stroke="#333" stroke-width="0.9"/>
<rect x="1046.5" y="930.5" width="12.5" height="6.5" fill="#ddd" stroke="#333" stroke-width="0.9"/>
<rect x="1046.5" y="901" width="12.5" height="6" fill="#ddd" stroke="#333" stroke-width="0.9"/>
<path d="M1054 920.5 l9.5 -6.5 l-2 -3 l-9 5 q-1.5 3 1.5 4.500 Z" fill="#e8e8e8" stroke="#333" stroke-width="0.9"/>
<path d="M1069.8 866.0 C1070.7 865.0 1072.3 861.2 1074.8 859.8 C1077.3 858.4 1081.0 857.2 1084.8 857.8 C1088.5 858.4 1091.4 860.5 1097.3 863.5 C1103.1 866.6 1110.6 872.4 1119.7 876.0 C1128.9 879.6 1141.3 884.0 1152.1 885.2 C1162.9 886.5 1172.7 884.5 1184.6 883.5 C1196.4 882.5 1216.8 879.8 1223.2 879.0" fill="none" stroke="#c9c9c9" stroke-width="4.4"/><path d="M1069.8 866.0 C1070.7 865.0 1072.3 861.2 1074.8 859.8 C1077.3 858.4 1081.0 857.2 1084.8 857.8 C1088.5 858.4 1091.4 860.5 1097.3 863.5 C1103.1 866.6 1110.6 872.4 1119.7 876.0 C1128.9 879.6 1141.3 884.0 1152.1 885.2 C1162.9 886.5 1172.7 884.5 1184.6 883.5 C1196.4 882.5 1216.8 879.8 1223.2 879.0" fill="none" stroke="#ececec" stroke-width="2.6" stroke-dasharray="1.6 1.4"/>
<path d="M1062.3 913.4 C1063.6 912.3 1066.5 908.1 1069.8 906.7 C1073.1 905.2 1076.9 903.6 1082.3 904.7 C1087.7 905.8 1095.2 910.1 1102.2 913.4 C1109.3 916.8 1117.6 921.7 1124.7 924.7 C1131.8 927.6 1138.0 930.3 1144.7 930.9 C1151.3 931.5 1157.5 931.1 1164.6 928.4 C1171.7 925.7 1180.0 920.7 1187.1 914.7 C1194.1 908.6 1200.8 898.0 1207.0 892.2 C1213.2 886.4 1221.6 881.8 1224.5 879.8" fill="none" stroke="#3c3c3c" stroke-width="4.6"/><path d="M1062.3 913.4 C1063.6 912.3 1066.5 908.1 1069.8 906.7 C1073.1 905.2 1076.9 903.6 1082.3 904.7 C1087.7 905.8 1095.2 910.1 1102.2 913.4 C1109.3 916.8 1117.6 921.7 1124.7 924.7 C1131.8 927.6 1138.0 930.3 1144.7 930.9 C1151.3 931.5 1157.5 931.1 1164.6 928.4 C1171.7 925.7 1180.0 920.7 1187.1 914.7 C1194.1 908.6 1200.8 898.0 1207.0 892.2 C1213.2 886.4 1221.6 881.8 1224.5 879.8" fill="none" stroke="#c8c8c8" stroke-width="2.8" stroke-dasharray="1.3 1.3"/>
<path d="M1073.6 920.4 C1075.0 919.7 1077.5 915.2 1082.3 915.9 C1087.1 916.6 1095.2 921.3 1102.2 924.7 C1109.3 928.0 1117.2 933.0 1124.7 935.9 C1132.2 938.8 1139.7 941.7 1147.1 942.1 C1154.6 942.5 1162.1 941.7 1169.6 938.4 C1177.1 935.0 1185.4 928.0 1192.0 922.2 C1198.7 916.3 1204.7 908.0 1209.5 903.4 C1214.3 898.9 1218.9 896.2 1220.7 894.7" fill="none" stroke="#222" stroke-width="1.2"/>
<polygon points="1067.8,921.7 1076.1,917.2 1075.3,922.9" fill="#222"/>
<polygon points="1224.0,892.2 1215.7,894.7 1220.0,899.7" fill="#222"/>
<path d="M1064.8 915.9 L1069.3 926.6" stroke="#555" stroke-width="0.7"/>
<path d="M1102.2 826 V845 Q1102.2 870 1130 870 H1225" fill="none" stroke="#333" stroke-width="4.2"/><path d="M1102.2 826 V845 Q1102.2 870 1130 870 H1225" fill="none" stroke="#d4d4d4" stroke-width="2.2"/>
<path d="M1112.5 826 V842 Q1112.5 862 1135 862 H1216" fill="none" stroke="#222" stroke-width="1.2"/>
<polygon points="1112.5,819.5 1109,828.5 1116,828.5" fill="#222"/>
<polygon points="1224,862 1215,858.500 1215,865.500" fill="#222"/>
<path d="M1104 818.5 H1116" stroke="#555" stroke-width="0.7"/>
<path d="M1127 813 V820 Q1127 835 1145 835 H1225" fill="none" stroke="#222" stroke-width="1.6"/>
<path d="M1135.500 817 V820 Q1135.500 828.700 1148 828.700 H1216" fill="none" stroke="#222" stroke-width="1.2"/>
<polygon points="1135.500,809.500 1132,818.500 1139,818.500" fill="#222"/>
<polygon points="1224,828.700 1215,825.200 1215,832.200" fill="#222"/>
<path d="M1130 807.500 H1141" stroke="#555" stroke-width="0.7"/>
<rect x="1121.800" y="792.500" width="12.500" height="11.500" rx="1.5" fill="#fff" stroke="#222" stroke-width="1.1"/>
<circle cx="1128" cy="798.200" r="3.800" fill="#eee" stroke="#333" stroke-width="0.9"/>
<circle cx="1126.3" cy="798.200" r="0.7" fill="#222"/><circle cx="1129.7" cy="798.200" r="0.7" fill="#222"/>
<rect x="1125.300" y="804" width="3.500" height="6" fill="#ddd" stroke="#222" stroke-width="0.8"/>
<rect x="1093.700" y="793" width="17.300" height="3.800" rx="1.900" fill="#eee" stroke="#222" stroke-width="0.9"/>
<rect x="1101" y="796.800" width="2.600" height="5" fill="#ddd" stroke="#222" stroke-width="0.7"/>
<circle cx="1102.300" cy="808.200" r="6.200" fill="#e4e4e4" stroke="#222" stroke-width="1.100"/>
<path d="M1096.500 806 q6 -5 11.500 0 l-1.500 3 q-4.500 -3.500 -8.500 0 Z" fill="#fff" stroke="#222" stroke-width="0.7"/>
<rect x="1100" y="813" width="4.600" height="6" fill="#ddd" stroke="#222" stroke-width="0.8"/>
<rect x="1099" y="818.500" width="6.600" height="6.500" fill="#eee" stroke="#222" stroke-width="0.9"/>
<path d="M1102.300 818.500 v6.500" stroke="#222" stroke-width="0.7"/>
<path d="M1062.500 824.500 l3 -3 h12 v17 h-7 l-8 -5 Z" fill="#bbb" stroke="#555" stroke-width="0.8"/>
<rect x="1069.500" y="818.500" width="7" height="4" fill="#ddd" stroke="#444" stroke-width="0.8"/>
<path d="M1070 838.500 h6 l-0.500 9 q-2.500 2 -5 0 Z" fill="#d8d8d8" stroke="#777" stroke-width="0.7"/>
<rect x="1083.700" y="823" width="8.500" height="16" rx="1" fill="#bbb" stroke="#555" stroke-width="0.8"/>
<rect x="1084.500" y="818.500" width="7" height="4.500" fill="#ddd" stroke="#444" stroke-width="0.8"/>
<path d="M1085 839 h6 l-0.500 8.500 q-2.500 2 -5 0 Z" fill="#d8d8d8" stroke="#777" stroke-width="0.7"/></g>
<path d="M1003 991 H1610.500" stroke="#111" stroke-width="1.400"/>
<path d="M1573 867.300 H1609" stroke="#222" stroke-width="0.9"/>
<path d="M1529 913 H1579" stroke="#222" stroke-width="0.9"/>
<path d="M1604.3 869.3 V990" stroke="#111" stroke-width="1.200"/>
<polygon points="1604.3,867.8 1600.8,876.8 1607.8,876.8" fill="#111"/>
<polygon points="1604.3,990.500 1600.8,981.500 1607.8,981.500" fill="#111"/>
<path d="M1574.4 915.0 V990" stroke="#111" stroke-width="1.200"/>
<polygon points="1574.4,913.5 1570.9,922.5 1577.9,922.5" fill="#111"/>
<polygon points="1574.4,990.500 1570.9,981.500 1577.9,981.500" fill="#111"/>
<rect x="1225" y="815" width="126.600" height="174" rx="1.500" fill="#f7f7f7" stroke="#111" stroke-width="1.400"/>
<rect x="1226" y="956" width="124.600" height="32" fill="#dedede"/>
<path d="M1226 956 H1350.600" stroke="#c4c4c4" stroke-width="1"/>
<path d="M1225 822.300 H1351.600" stroke="#111" stroke-width="1.200"/>
<path d="M1226 844.500 H1350.600" stroke="#999" stroke-width="0.8"/>
<rect x="1228" y="988.500" width="11" height="2.500" fill="#ccc" stroke="#333" stroke-width="0.6"/><rect x="1337" y="988.500" width="11" height="2.500" fill="#ccc" stroke="#333" stroke-width="0.6"/>
<circle cx="1288.300" cy="893.800" r="45.500" fill="#f4f4f4" stroke="#555" stroke-width="0.9"/>
<circle cx="1288.300" cy="893.800" r="37" fill="#d2d2d2"/>
<circle cx="1288.300" cy="894.300" r="32" fill="#8a8a8a"/>
<path d="M1270 880 q8 -14 22 -12 q-14 6 -16 26 q-7 -4 -6 -14 Z" fill="#bdbdbd"/>
<path d="M1296 878 q14 2 14 20 q-4 12 -16 16 q10 -12 6 -24 q-1 -7 -4 -12 Z" fill="#a6a6a6"/>
</svg>

<!-- PANEL 3 -->
<div class="a" style="left:1758px;top:76px;width:168px;height:1116px;background:linear-gradient(90deg,#d0e7dd,#e6f2ec)"></div>
<div class="a" style="left:1927px;top:76px;width:128px;height:1116px;background:linear-gradient(90deg,#ebf5f0,#fff)"></div>
<div class="a" style="left:1700px;top:1px;width:796px;height:75px;background:#0f6b58"></div>
<div class="a" style="left:1701px;top:75px;width:57px;height:1117px;background:#a8d2c2"></div>
<div class="a" style="left:1701px;top:262px;width:793px;height:27px;background:#72ad93"></div>
<div class="a" style="left:1701px;top:441px;width:642px;height:27px;background:#72ad93"></div>
<div class="a" style="left:1701px;top:579px;width:642px;height:46px;background:#72ad93"></div>
<div class="a" style="left:1701px;top:826px;width:793px;height:27px;background:#72ad93"></div>
<svg style="left:1706px;top:87px" width="51" height="49"><use href="#warn"/></svg>
<div class="a" style="left:2472px;top:1147px;width:22px;height:45px;background:#231f20"></div>
<svg style="left:0;top:0" width="3360" height="1192" viewBox="0 0 3360 1192">
<g transform="translate(2340 80) scale(0.1970)">
<g transform="translate(0 0)"><path d="M246 166 L528 88 Q598 92 606 165 Q602 232 562 250 L322 314 L300 240 Z" fill="#e8e8e8" stroke="#2e2e2e" stroke-width="5"/><path d="M262 200 L596 118 M280 240 L604 160 M305 285 L596 212" stroke="#aaa" stroke-width="5" fill="none"/><path d="M262 182 L560 102" stroke="#fff" stroke-width="9" fill="none"/><path d="M392 126 Q432 200 412 290 M380 130 Q420 205 398 294" stroke="#2e2e2e" stroke-width="4" fill="none"/><path d="M283 236 L316 226 L326 374 L292 386 Z" fill="#f6f6f6" stroke="#2e2e2e" stroke-width="5"/></g><g transform="translate(0 0)"><path d="M150 262 L288 240 L296 335 L235 350 L160 332 Z" fill="#ececec" stroke="#2e2e2e" stroke-width="4"/><path d="M170 300 L280 280 M200 330 Q230 280 270 320 M215 335 Q240 300 262 335" stroke="#3a3a3a" stroke-width="4" fill="none"/><circle cx="122" cy="296" r="44" fill="#cfcfcf" stroke="#2e2e2e" stroke-width="5"/><circle cx="108" cy="296" r="38" fill="#ececec" stroke="#2e2e2e" stroke-width="4"/></g><g transform="translate(0 0)"><path d="M72 140 Q85 62 158 46 L246 92 Q182 112 172 188 Q178 236 232 240 L250 262 L215 268 Q128 272 78 215 Z" fill="#e6e6e6" stroke="#2e2e2e" stroke-width="5"/><path d="M158 46 L246 92 Q182 112 172 188 L104 150 Q108 80 158 46 Z" fill="#f8f8f8" stroke="#3a3a3a" stroke-width="4"/><path d="M72 140 L72 200 Q110 250 160 265" fill="none" stroke="#2e2e2e" stroke-width="4"/></g>
<path d="M490 262 L530 352 L690 128" fill="none" stroke="#111" stroke-width="56" stroke-linecap="round" stroke-linejoin="round"/>
<path d="M478 250 L518 338 L678 112" fill="none" stroke="#0a9a4c" stroke-width="56" stroke-linecap="round" stroke-linejoin="round"/>
<g transform="translate(55 378)"><path d="M246 166 L528 88 Q598 92 606 165 Q602 232 562 250 L322 314 L300 240 Z" fill="#e8e8e8" stroke="#2e2e2e" stroke-width="5"/><path d="M262 200 L596 118 M280 240 L604 160 M305 285 L596 212" stroke="#aaa" stroke-width="5" fill="none"/><path d="M262 182 L560 102" stroke="#fff" stroke-width="9" fill="none"/><path d="M392 126 Q432 200 412 290 M380 130 Q420 205 398 294" stroke="#2e2e2e" stroke-width="4" fill="none"/><path d="M283 236 L316 226 L326 374 L292 386 Z" fill="#f6f6f6" stroke="#2e2e2e" stroke-width="5"/></g><g transform="translate(55 378)"><path d="M72 140 Q85 62 158 46 L246 92 Q182 112 172 188 Q178 236 232 240 L250 262 L215 268 Q128 272 78 215 Z" fill="#e6e6e6" stroke="#2e2e2e" stroke-width="5"/><path d="M158 46 L246 92 Q182 112 172 188 L104 150 Q108 80 158 46 Z" fill="#f8f8f8" stroke="#3a3a3a" stroke-width="4"/><path d="M72 140 L72 200 Q110 250 160 265" fill="none" stroke="#2e2e2e" stroke-width="4"/></g>
<path d="M265 812 L640 655 L660 660 L650 690 L290 862 Z" fill="#e8e8e8" stroke="#2e2e2e" stroke-width="4"/>
<path d="M585 678 l10 30 M600 672 l10 30 M615 666 l10 28 M630 660 l8 26" stroke="#2e2e2e" stroke-width="4"/>
<circle cx="262" cy="838" r="42" fill="#cfcfcf" stroke="#2e2e2e" stroke-width="5"/><circle cx="250" cy="842" r="36" fill="#ececec" stroke="#2e2e2e" stroke-width="4"/>
<path d="M215 640 Q240 600 280 640 M230 680 Q260 640 300 680 M250 700 L300 640" stroke="#3a3a3a" stroke-width="4" fill="none"/>
<path d="M448 462 L606 748 M654 450 L362 816" fill="none" stroke="#111" stroke-width="70" stroke-linecap="butt"/>
<path d="M432 448 L590 734 M638 436 L346 802" fill="none" stroke="#ed1c2e" stroke-width="70" stroke-linecap="butt"/>
</g>
<rect x="2165.4" y="297.6" width="144.0" height="104.8" fill="#fff" stroke="#0f6b58" stroke-width="2.5"/>
<g transform="translate(2160 290) scale(0.13123)">
<rect x="122" y="92" width="938" height="713" fill="#ebebeb"/>
<rect x="410" y="92" width="330" height="62" fill="#d4d4d4"/>
<rect x="150" y="92" width="80" height="713" fill="#f2f2f2"/><rect x="910" y="92" width="90" height="713" fill="#f2f2f2"/>
<path d="M122 92 V805 M1058 92 V805" stroke="#222" stroke-width="6"/>
<path d="M240 300 V700 M910 300 V700" stroke="#d0d0d0" stroke-width="5"/>
<path d="M590 160 Q830 170 850 420 Q840 640 700 760 Q590 810 480 760 Q320 640 310 420 Q350 170 590 160 Z" fill="#f1f1f1" stroke="#dadada" stroke-width="7"/>
<path d="M590 270 Q770 280 780 440 Q760 620 680 690 Q590 740 500 690 Q410 620 395 440 Q420 280 590 270 Z" fill="#f4f4f4" stroke="#d2d2d2" stroke-width="8"/>
<path d="M530 440 Q530 400 590 400 Q650 400 650 440 L645 500 Q630 550 590 552 Q545 550 532 500 Z" fill="#f2f2f2" stroke="#d4d4d4" stroke-width="6"/>
<ellipse cx="295" cy="183" rx="26" ry="42" fill="#555" stroke="#222" stroke-width="5" transform="rotate(-35 295 183)"/>
<circle cx="290" cy="177" r="17" fill="#fff"/>
<ellipse cx="857" cy="183" rx="26" ry="42" fill="#555" stroke="#222" stroke-width="5" transform="rotate(35 857 183)"/>
<circle cx="862" cy="177" r="17" fill="#fff"/>
<ellipse cx="295" cy="738" rx="26" ry="42" fill="#555" stroke="#222" stroke-width="5" transform="rotate(-80 295 738)"/>
<circle cx="290" cy="738" r="17" fill="#fff"/>
<ellipse cx="878" cy="738" rx="26" ry="42" fill="#555" stroke="#222" stroke-width="5" transform="rotate(-100 878 738)"/>
<circle cx="883" cy="738" r="17" fill="#fff"/>
<circle cx="295" cy="183" r="120" fill="none" stroke="#d8202a" stroke-width="19"/>
<circle cx="857" cy="183" r="120" fill="none" stroke="#d8202a" stroke-width="19"/>
<circle cx="295" cy="720" r="120" fill="none" stroke="#d8202a" stroke-width="19"/>
<circle cx="878" cy="720" r="120" fill="none" stroke="#d8202a" stroke-width="19"/>
</g>
<rect x="2345.4" y="297.6" width="144.1" height="104.8" fill="#fff" stroke="#0f6b58" stroke-width="2.5"/>
<g transform="translate(2340 290) scale(0.13123)">
<path d="M618 70 Q665 300 665 820 L745 820 Q750 300 712 70 Z" fill="#f4f4f4"/>
<path d="M618 70 Q665 300 665 820 M712 70 Q750 300 745 820 M640 70 Q685 300 690 560" fill="none" stroke="#aaa" stroke-width="5"/>
<path d="M800 400 L960 330 Q1040 340 1050 420 Q1050 490 1010 520 L900 560 Z" fill="#ececec" stroke="#d6d6d6" stroke-width="5"/>
<path d="M820 420 L1020 350 M840 470 L1040 400" stroke="#dcdcdc" stroke-width="6"/>
<path d="M380 500 L400 560 L480 600 L520 700 Q570 730 640 690 L660 640 L600 590 L440 520 Z" fill="#e8e8e8" stroke="#555" stroke-width="5"/>
<path d="M690 640 L690 740 L715 740 L715 660 Z" fill="#e0e0e0" stroke="#777" stroke-width="4"/>
<defs><linearGradient id="hg" x1="0" y1="0" x2="0.35" y2="1"><stop offset="0" stop-color="#fafafa"/><stop offset="0.5" stop-color="#f2f2f2"/><stop offset="1" stop-color="#dcdcdc"/></linearGradient></defs>
<path d="M105 125 Q400 215 700 350 Q950 480 1120 622 L1120 820 L940 820 Q800 715 600 590 Q350 465 105 390 Z" fill="url(#hg)"/>
<path d="M105 125 Q400 215 700 350 Q950 480 1120 622 M105 390 Q350 465 600 590 Q800 715 940 820" fill="none" stroke="#222" stroke-width="6"/>
<path d="M480 325 Q410 400 400 500 L440 540 L490 560 Q490 450 590 380 L585 368 Z" fill="#e4e4e4" stroke="#444" stroke-width="6"/>
<path d="M500 335 Q440 410 430 520 M560 365 Q490 440 488 550" fill="none" stroke="#777" stroke-width="4"/>
<circle cx="520" cy="640" r="45" fill="#dedede" stroke="#444" stroke-width="5"/><circle cx="580" cy="625" r="22" fill="#ccc" stroke="#555" stroke-width="4"/>
<path d="M525 150 Q580 165 592 215 L595 340 L528 310 Z" fill="#a0776a"/>
<path d="M520 138 Q470 100 420 118 L395 150 L300 125 L275 200 L450 195 L420 165 Q470 150 500 150 Z" fill="#ee1c25"/>
</g>
<polygon points="2402.7,414.7 2431.7,414.7 2417.2,429.2" fill="#0f6b58"/>
<polygon points="2401.0,556.5 2430.0,556.5 2415.5,571.0" fill="#0f6b58"/>
<polygon points="2401.0,695.2 2430.0,695.2 2415.5,709.7" fill="#0f6b58"/>
<rect x="2345.4" y="441.4" width="143.3" height="105.8" fill="#fff" stroke="#0f6b58" stroke-width="2.5"/>
<g transform="translate(2340 435) scale(0.13123)">
<g transform="translate(0 0)"><path d="M720 300 L930 208 Q1030 215 1042 330 Q1040 400 1000 425 L740 530 Z" fill="#e9e9e9" stroke="#d4d4d4" stroke-width="5"/><path d="M740 330 L1020 240 M750 400 L1040 300 M760 470 L1030 370 M830 280 Q870 380 840 490" stroke="#d8d8d8" stroke-width="6" fill="none"/><path d="M850 300 L1010 245 L1020 330 L860 390 Z" fill="#f1f1f1"/></g>
<path d="M600 75 Q685 352 640 830 L725 830 Q770 352 690 75 Z" fill="#f6f6f6"/><path d="M600 75 Q685 352 640 830 M690 75 Q770 352 725 830" fill="none" stroke="#999" stroke-width="5"/>
<path d="M520 600 L640 580 L640 700 L610 750 L560 730 Z" fill="#5a5a5a"/>
<g transform="translate(0 0)"><path d="M460 200 L575 255 Q500 300 480 380 L470 420 L400 400 Q380 300 460 200 Z" fill="#f4f4f4" stroke="#333" stroke-width="5"/><path d="M460 200 Q380 270 385 380 L400 420 L470 440 L470 420 L400 400 Q380 300 460 200" fill="#ddd" stroke="#333" stroke-width="5"/><path d="M355 320 L385 310 L395 400 L470 440 L650 470 L690 470 L690 620 L660 625 L655 500 L470 470 L360 420 Z" fill="#ececec" stroke="#333" stroke-width="5"/><path d="M520 340 L640 390 L640 460" fill="none" stroke="#333" stroke-width="5"/></g>
<path d="M560 440 L640 460 L640 560 L580 580 L540 520 Z" fill="#e2e2e2" stroke="#333" stroke-width="5"/>
<path d="M435 496 L555 478 L565 572 L445 587 Z" fill="#e6e6e6" stroke="#333" stroke-width="5"/><circle cx="427" cy="540" r="52" fill="#cfcfcf" stroke="#333" stroke-width="6"/><circle cx="415" cy="540" r="44" fill="#ededed" stroke="#555" stroke-width="4"/>
<path d="M330 610 Q400 680 510 640 L470 625 Q400 640 370 600 Z" fill="#9a7263"/>
<path d="M430 420 L545 395 L520 430 Q600 520 560 600 L505 645 Q560 520 480 440 L470 470 Z" fill="#ee1c25"/>
<path d="M400 560 L290 610 L310 640 L175 635 L255 575 L270 595 L385 545 Z" fill="#ee1c25"/>
</g>
<rect x="2345.4" y="580.9" width="143.3" height="105.1" fill="#fff" stroke="#0f6b58" stroke-width="2.5"/>
<g transform="translate(2340 575) scale(0.13123)">
<g transform="translate(-90 -10)"><path d="M720 300 L930 208 Q1030 215 1042 330 Q1040 400 1000 425 L740 530 Z" fill="#e9e9e9" stroke="#d4d4d4" stroke-width="5"/><path d="M740 330 L1020 240 M750 400 L1040 300 M760 470 L1030 370 M830 280 Q870 380 840 490" stroke="#d8d8d8" stroke-width="6" fill="none"/><path d="M850 300 L1010 245 L1020 330 L860 390 Z" fill="#f1f1f1"/></g>
<path d="M518 60 Q620 347 560 835 L645 835 Q705 347 615 60 Z" fill="#f6f6f6"/><path d="M518 60 Q620 347 560 835 M615 60 Q705 347 645 835" fill="none" stroke="#999" stroke-width="5"/>
<path d="M430 600 L560 590 L560 740 L520 760 Q450 720 430 600 Z" fill="#555"/>
<g transform="translate(-75 -5)"><path d="M460 200 L575 255 Q500 300 480 380 L470 420 L400 400 Q380 300 460 200 Z" fill="#f4f4f4" stroke="#333" stroke-width="5"/><path d="M460 200 Q380 270 385 380 L400 420 L470 440 L470 420 L400 400 Q380 300 460 200" fill="#ddd" stroke="#333" stroke-width="5"/><path d="M355 320 L385 310 L395 400 L470 440 L650 470 L690 470 L690 620 L660 625 L655 500 L470 470 L360 420 Z" fill="#ececec" stroke="#333" stroke-width="5"/><path d="M520 340 L640 390 L640 460" fill="none" stroke="#333" stroke-width="5"/></g>
<path d="M480 440 L560 460 L560 590 L440 600 L400 520 Z" fill="#e2e2e2" stroke="#333" stroke-width="5"/>
<path d="M440 520 Q480 480 520 520 M450 560 L520 500 M450 575 Q490 540 530 575" fill="none" stroke="#333" stroke-width="5"/>
<path d="M365 492 L485 474 L495 576 L375 591 Z" fill="#e6e6e6" stroke="#333" stroke-width="5"/><circle cx="357" cy="540" r="56" fill="#cfcfcf" stroke="#333" stroke-width="6"/><circle cx="345" cy="540" r="48" fill="#ededed" stroke="#555" stroke-width="4"/>
<path d="M480 610 L525 595 L545 680 L565 672 L520 735 L455 715 L475 705 Z" fill="#ee1c25" stroke="#fff" stroke-width="5"/>
<path d="M455 735 L370 770 L385 795 L258 792 L320 728 L335 750 L410 715 Z" fill="#ee1c25"/>
</g>
<rect x="2345.4" y="717.5" width="143.3" height="104.7" fill="#fff" stroke="#0f6b58" stroke-width="2.5"/>
<g transform="translate(2340 710) scale(0.13123)">
<path d="M925 130 Q930 105 955 105 Q985 110 985 150 Q980 180 975 205 Q1030 250 1030 320 Q1025 390 985 415 L975 430 L960 415 Q920 410 905 370 Q870 320 885 260 Q900 225 930 215 Q935 180 925 130 Z" fill="#5c5c5c"/>
<path d="M985 330 L900 390 L905 395 L780 400 L760 340 L790 355 L910 305 Z" fill="#ee1c25"/>
<path d="M365 495 L680 345 Q770 350 795 440 Q795 500 770 520 L490 665 L430 580 Z" fill="#e6e6e6" stroke="#333" stroke-width="5"/>
<path d="M390 510 L700 365 M440 560 L770 400 M470 610 L790 455 M480 650 L780 505" stroke="#999" stroke-width="5" stroke-dasharray="14 6" fill="none"/>
<path d="M540 430 Q610 520 590 620 M520 440 Q590 525 572 628" stroke="#666" stroke-width="4" fill="none"/>
<path d="M425 585 L470 590 L490 735 L462 745 L440 640 Z" fill="#f4f4f4" stroke="#333" stroke-width="5"/>
<path d="M290 640 L420 590 L440 700 L330 715 Z" fill="#e8e8e8" stroke="#333" stroke-width="5"/>
<path d="M330 690 Q370 640 410 690 M345 640 L420 620" fill="none" stroke="#333" stroke-width="5"/>
<path d="M255 365 L362 405 Q300 450 295 540 L300 600 L230 580 Q185 450 255 365 Z" fill="#f2f2f2" stroke="#333" stroke-width="5"/>
<path d="M255 365 Q180 440 205 560 L230 600 L300 620 L300 600 L230 580 Q185 450 255 365" fill="#d8d8d8" stroke="#333" stroke-width="5"/>
<path d="M162 480 L195 470 L215 580 L300 620 L420 590 L300 640 L180 590 Z" fill="#e8e8e8" stroke="#333" stroke-width="5"/>
<circle cx="250" cy="680" r="58" fill="#cfcfcf" stroke="#333" stroke-width="6"/><circle cx="238" cy="682" r="48" fill="#ececec" stroke="#555" stroke-width="4"/>
</g>
<defs><radialGradient id="cg" cx="0.35" cy="0.3" r="0.8"><stop offset="0" stop-color="#fafafa"/><stop offset="0.6" stop-color="#ececec"/><stop offset="1" stop-color="#d2d2d2"/></radialGradient></defs>
<rect x="1999.5" y="861.2" width="143.2" height="106.3" fill="#fff" stroke="#0f6b58" stroke-width="2.5"/>
<g transform="translate(1990 850) scale(0.14225)">
<path d="M770 150 Q785 118 815 120 Q868 130 868 195 Q862 240 855 300 Q945 390 948 490 Q940 580 880 620 L862 650 L790 618 L780 590 Q715 540 700 440 Q690 350 760 300 Q790 290 785 240 Q765 200 770 150 Z" fill="#5e5e5e" stroke="#222" stroke-width="4"/>
<path d="M640 412 L700 400 L690 415 L850 390 L845 470 L790 455 L700 490 L620 465 L680 440 Z" fill="#ee1c25"/>
<g transform="translate(480 580)"><g transform="translate(28 22)"><path d="M-250 -75 Q-200 -220 -100 -255 L-70 -225 Q-160 -170 -175 -40 L-240 -55 Z" fill="#e4e4e4" stroke="#666" stroke-width="5"/><path d="M-215 -90 Q-180 -190 -95 -230" fill="none" stroke="#555" stroke-width="10" stroke-dasharray="5 5"/><path d="M-255 -80 L-235 -95 L-165 -70 L-170 -35 L-240 -45 Z" fill="#f0f0f0" stroke="#666" stroke-width="5"/></g><ellipse cx="0" cy="0" rx="172" ry="212" fill="#cfcfcf" stroke="#555" stroke-width="5" transform="rotate(-17) translate(8 4)"/><ellipse cx="0" cy="0" rx="168" ry="208" fill="url(#cg)" stroke="#777" stroke-width="4" transform="rotate(-17)"/><ellipse cx="-15" cy="-20" rx="135" ry="172" fill="none" stroke="#dcdcdc" stroke-width="5" transform="rotate(-17)"/><ellipse cx="-35" cy="85" rx="75" ry="88" fill="#eee" stroke="#c4c4c4" stroke-width="5"/><path d="M-60 -60 L-30 -60 L-35 90 L-62 90 Z" fill="#d6d6d6" stroke="#c4c4c4" stroke-width="3"/><circle cx="-35" cy="-110" r="42" fill="#e6e6e6" stroke="#c4c4c4" stroke-width="5"/><path d="M10 195 L12 170 M35 190 L33 165" stroke="#333" stroke-width="5"/><path d="M-45 -270 L15 -295 L95 -270 L95 -175 L45 -195 L20 -170 L-25 -190 Z" fill="#ebebeb" stroke="#777" stroke-width="5"/><path d="M15 -295 L20 -215 L-25 -190 M20 -215 L60 -200" fill="none" stroke="#999" stroke-width="4"/></g>
</g>
<polygon points="2151.0,897.5 2165.3,911.1 2151.0,924.7" fill="#0f6b58"/>
<rect x="2173.3" y="861.2" width="143.4" height="106.3" fill="#fff" stroke="#0f6b58" stroke-width="2.5"/>
<g transform="translate(2165 850) scale(0.14225)">
<path d="M310 405 Q330 320 400 280 L415 300 Q400 350 310 405 Z" fill="#93695c"/>
<path d="M400 268 Q480 190 600 195 L660 165 L665 230 L600 262 L545 250 L470 280 L500 245 Q440 250 415 298 Z" fill="#ee1c25"/>
<g transform="translate(665 540)"><g transform="translate(28 22)"><path d="M-250 -75 Q-200 -220 -100 -255 L-70 -225 Q-160 -170 -175 -40 L-240 -55 Z" fill="#e4e4e4" stroke="#666" stroke-width="5"/><path d="M-215 -90 Q-180 -190 -95 -230" fill="none" stroke="#555" stroke-width="10" stroke-dasharray="5 5"/><path d="M-255 -80 L-235 -95 L-165 -70 L-170 -35 L-240 -45 Z" fill="#f0f0f0" stroke="#666" stroke-width="5"/></g><ellipse cx="0" cy="0" rx="172" ry="212" fill="#cfcfcf" stroke="#555" stroke-width="5" transform="rotate(-17) translate(8 4)"/><ellipse cx="0" cy="0" rx="168" ry="208" fill="url(#cg)" stroke="#777" stroke-width="4" transform="rotate(-17)"/><ellipse cx="-15" cy="-20" rx="135" ry="172" fill="none" stroke="#dcdcdc" stroke-width="5" transform="rotate(-17)"/><ellipse cx="-35" cy="85" rx="75" ry="88" fill="#eee" stroke="#c4c4c4" stroke-width="5"/><path d="M-60 -60 L-30 -60 L-35 90 L-62 90 Z" fill="#d6d6d6" stroke="#c4c4c4" stroke-width="3"/><circle cx="-35" cy="-110" r="42" fill="#e6e6e6" stroke="#c4c4c4" stroke-width="5"/><path d="M10 195 L12 170 M35 190 L33 165" stroke="#333" stroke-width="5"/></g>
<path d="M610 270 L690 250 L750 268 L748 330 L620 340 Z" fill="#dedede" stroke="#888" stroke-width="4"/>
<path d="M675 180 Q680 148 715 148 Q770 160 775 225 Q770 270 745 275 L748 350 L735 350 L728 270 Q690 250 675 180 Z" fill="#5a5a5a" stroke="#333" stroke-width="3"/>
<path d="M600 345 L750 318 L745 375 L690 370 L610 400 L548 378 L610 360 Z" fill="#ee1c25"/>
</g>
<polygon points="2324.4,897.0 2338.8,910.9 2324.4,924.7" fill="#0f6b58"/>
<rect x="2345.2" y="861.2" width="144.2" height="105.3" fill="#fff" stroke="#0f6b58" stroke-width="2.5"/>
<g transform="translate(2165 850) scale(0.14225)">
<g transform="translate(1765 565)"><g transform="translate(28 22)"><path d="M-250 -75 Q-200 -220 -100 -255 L-70 -225 Q-160 -170 -175 -40 L-240 -55 Z" fill="#e4e4e4" stroke="#666" stroke-width="5"/><path d="M-215 -90 Q-180 -190 -95 -230" fill="none" stroke="#555" stroke-width="10" stroke-dasharray="5 5"/><path d="M-255 -80 L-235 -95 L-165 -70 L-170 -35 L-240 -45 Z" fill="#f0f0f0" stroke="#666" stroke-width="5"/></g><ellipse cx="0" cy="0" rx="172" ry="212" fill="#cfcfcf" stroke="#555" stroke-width="5" transform="rotate(-17) translate(8 4)"/><ellipse cx="0" cy="0" rx="168" ry="208" fill="url(#cg)" stroke="#777" stroke-width="4" transform="rotate(-17)"/><ellipse cx="-15" cy="-20" rx="135" ry="172" fill="none" stroke="#dcdcdc" stroke-width="5" transform="rotate(-17)"/><ellipse cx="-35" cy="85" rx="75" ry="88" fill="#eee" stroke="#c4c4c4" stroke-width="5"/><path d="M-60 -60 L-30 -60 L-35 90 L-62 90 Z" fill="#d6d6d6" stroke="#c4c4c4" stroke-width="3"/><circle cx="-35" cy="-110" r="42" fill="#e6e6e6" stroke="#c4c4c4" stroke-width="5"/><path d="M10 195 L12 170 M35 190 L33 165" stroke="#333" stroke-width="5"/></g>
<path d="M1735 200 Q1740 160 1775 158 Q1830 170 1838 235 Q1835 275 1822 285 L1825 375 L1800 360 L1795 300 L1770 280 Q1740 250 1735 200 Z" fill="#5c5c5c" stroke="#444" stroke-width="3"/>
<path d="M1700 290 L1740 275 L1800 300 L1800 360 L1760 330 Z" fill="#e8e8e8" stroke="#777" stroke-width="4"/>
<path d="M1850 390 L1870 365 L1930 450" fill="none" stroke="#555" stroke-width="5"/>
</g>
</svg>

<!-- PANEL 4 -->
<div class="a" style="left:2596px;top:75px;width:288px;height:1117px;background:linear-gradient(90deg,#d8e2f6,#e8eefa 55%,#f1f5fc 80%,#fff)"></div>
<div class="a" style="left:2539px;top:1px;width:796px;height:75px;background:#1378c8"></div>
<div class="a" style="left:2539px;top:75px;width:57px;height:1117px;background:#ccd9f1"></div>
<div class="a" style="left:2596px;top:268px;width:738px;height:30px;background:#ccd9f3"></div>
<div class="a" style="left:2596px;top:686px;width:738px;height:30px;background:#ccd9f3"></div>
<svg style="left:2596px;top:822px" width="590" height="50"><path d="M0 0.5 L567 0.5 L588 24.5 L567 49 L0 49 Z" fill="#ccd9f3"/></svg>
<svg style="left:2596px;top:961px" width="590" height="50"><path d="M0 0.4 L567 0.4 L588 24.8 L567 49.3 L0 49.3 Z" fill="#ccd9f3"/></svg>
<div class="a" style="left:2540px;top:268px;width:56px;height:57px;background:#1378c8"></div>
<div class="a" style="left:2540px;top:686px;width:56px;height:57px;background:#1378c8"></div>
<svg style="left:2540px;top:268px" width="56" height="57"><use href="#hand"/></svg>
<svg style="left:2540px;top:686px" width="56" height="57"><use href="#hand"/></svg>
<svg style="left:2544px;top:93px" width="51" height="49"><use href="#warn"/></svg>
<div class="a" style="left:3311px;top:1147px;width:22px;height:45px;background:#231f20"></div>
<svg style="left:0;top:0" width="3360" height="1192" viewBox="0 0 3360 1192">
<defs>
<linearGradient id="pipeg" x1="0" y1="0" x2="1" y2="0"><stop offset="0" stop-color="#8e9092"/><stop offset="0.35" stop-color="#e4e6e8"/><stop offset="0.6" stop-color="#c4c6c8"/><stop offset="1" stop-color="#7c7e80"/></linearGradient>
<linearGradient id="tapg" x1="0" y1="0" x2="1" y2="0"><stop offset="0" stop-color="#b8babc"/><stop offset="0.4" stop-color="#f8f8f8"/><stop offset="1" stop-color="#c8cacc"/></linearGradient>
<linearGradient id="sideg" x1="0" y1="0" x2="1" y2="0"><stop offset="0" stop-color="#d4d5d5"/><stop offset="0.18" stop-color="#8a8c8d"/><stop offset="1" stop-color="#8e9091"/></linearGradient>
<linearGradient id="hoseg" x1="0" y1="0" x2="0" y2="1"><stop offset="0" stop-color="#e8eaeb"/><stop offset="1" stop-color="#b4b6b8"/></linearGradient>
</defs>
<rect x="3030" y="468.2" width="7.2" height="207.3" fill="#1a78c4"/>
<rect x="3187" y="468.2" width="6.2" height="207.3" fill="#1a78c4"/>
<rect x="3187" y="721" width="6.2" height="203.500" fill="#1a78c4"/>
<rect x="3042.3" y="469.5" width="136.4" height="98.0" fill="#f6f7f8" stroke="#1a78c4" stroke-width="2.6"/>
<clipPath id="cG1"><rect x="3043.5" y="470.7" width="134.0" height="95.6"/></clipPath>
<g clip-path="url(#cG1)"><g transform="translate(3025 460) scale(0.12583)">
<path d="M180 60 V870" stroke="#a4a6a8" stroke-width="7"/>
<path d="M305 60 V870" stroke="#a4a6a8" stroke-width="7"/>
<path d="M435 60 V870" stroke="#a4a6a8" stroke-width="7"/>
<path d="M565 60 V870" stroke="#a4a6a8" stroke-width="7"/>
<path d="M695 60 V870" stroke="#a4a6a8" stroke-width="7"/>
<path d="M825 60 V870" stroke="#a4a6a8" stroke-width="7"/>
<path d="M950 60 V870" stroke="#a4a6a8" stroke-width="7"/>
<path d="M1080 60 V870" stroke="#a4a6a8" stroke-width="7"/>
<path d="M1205 60 V870" stroke="#a4a6a8" stroke-width="7"/>
<path d="M120 160 H1240" stroke="#a4a6a8" stroke-width="7"/>
<path d="M120 290 H1240" stroke="#a4a6a8" stroke-width="7"/>
<path d="M120 415 H1240" stroke="#a4a6a8" stroke-width="7"/>
<path d="M120 540 H1240" stroke="#a4a6a8" stroke-width="7"/>
<path d="M120 665 H1240" stroke="#a4a6a8" stroke-width="7"/>
<path d="M120 790 H1240" stroke="#a4a6a8" stroke-width="7"/>
<rect x="560" y="360" width="260" height="50" fill="#e6e8ea" stroke="#8c8e90" stroke-width="5"/>
<rect x="210" y="335" width="40" height="100" rx="6" fill="#dfe1e3" stroke="#999" stroke-width="5"/><rect x="245" y="310" width="250" height="155" rx="22" fill="#e4e6e8" stroke="#8c8e90" stroke-width="5"/>
<rect x="1120" y="335" width="45" height="100" rx="6" fill="#dfe1e3" stroke="#999" stroke-width="5"/><rect x="880" y="310" width="245" height="155" rx="22" fill="#e4e6e8" stroke="#8c8e90" stroke-width="5"/>
<rect x="510" y="345" width="60" height="82" rx="6" fill="#eceeef" stroke="#8c8e90" stroke-width="5"/><rect x="815" y="345" width="58" height="82" rx="6" fill="#eceeef" stroke="#8c8e90" stroke-width="5"/>
<rect x="610" y="230" width="160" height="38" rx="5" fill="#d2d4d6" stroke="#777" stroke-width="5"/><rect x="678" y="268" width="26" height="50" fill="#dcdee0" stroke="#777" stroke-width="5"/>
<circle cx="690" cy="385" r="68" fill="#e2e4e6" stroke="#777" stroke-width="5"/>
<path d="M640 385 Q640 335 690 335 Q740 335 740 385 Q738 420 722 440 L720 510 L662 510 L660 440 Q642 420 640 385 Z" fill="#f2f3f4" stroke="#777" stroke-width="5"/>
<rect x="648" y="510" width="88" height="55" rx="6" fill="#c8cacc" stroke="#666" stroke-width="5"/><path d="M672 512 V563 M712 512 V563" stroke="#888" stroke-width="4"/>
<rect x="612" y="575" width="158" height="270" rx="28" fill="#e2e4e6" stroke="#777" stroke-width="5"/>
<path d="M575 660 Q470 610 430 500 L470 515 L362 478 L330 592 L362 570 Q420 690 545 722 Z" fill="#d0202e"/>
<path d="M575 660 Q470 610 430 500 L470 515 L362 478 L330 592 L362 570 Q420 690 545 722 Z" fill="#d0202e" transform="translate(1378 0) scale(-1 1)"/>
</g></g>
<rect x="3044.4" y="577.2" width="134.3" height="100.0" fill="#fff" stroke="#1a78c4" stroke-width="2.5"/>
<clipPath id="cG2"><rect x="3045.7" y="578.5" width="131.8" height="97.5"/></clipPath>
<g clip-path="url(#cG2)"><g transform="translate(3025 570) scale(0.12583) translate(145 48)">
<rect x="685" y="0" width="285" height="135" fill="url(#pipeg)"/><rect x="660" y="132" width="335" height="38" fill="#d0d2d4" stroke="#555" stroke-width="5"/><rect x="685" y="170" width="285" height="135" fill="#6e7072"/><path d="M685 205 L970 180 L970 198 L685 223 Z" fill="#d4d6d8" stroke="#444" stroke-width="3"/><path d="M685 237 L970 212 L970 230 L685 255 Z" fill="#d4d6d8" stroke="#444" stroke-width="3"/><path d="M685 269 L970 244 L970 262 L685 287 Z" fill="#d4d6d8" stroke="#444" stroke-width="3"/><path d="M685 301 L970 276 L970 294 L685 319 Z" fill="#d4d6d8" stroke="#444" stroke-width="3"/><path d="M1000 150 H1050 M960 300 H1050 M1045 150 V425 M1015 145 l30 30 M1015 295 l30 30" stroke="#666" stroke-width="3" fill="none"/><ellipse cx="552" cy="245" rx="58" ry="98" fill="#e8e9ea" stroke="#444" stroke-width="5" transform="rotate(-18 552 245)"/><ellipse cx="540" cy="250" rx="42" ry="78" fill="#d4d6d8" stroke="#666" stroke-width="4" transform="rotate(-18 540 250)"/><path d="M365 245 L440 240 L520 200 L560 290 L470 330 Q420 360 410 440 L405 480 L310 470 L320 400 Q340 320 365 300 Z" fill="url(#tapg)" stroke="#444" stroke-width="5"/><path d="M305 440 L412 455 L408 500 Q360 520 312 495 Z" fill="#444" stroke="#222" stroke-width="4"/><path d="M405 37 L470 70 L485 90 L455 225 L375 232 L330 100 L340 75 Z" fill="url(#tapg)" stroke="#444" stroke-width="5"/><ellipse cx="408" cy="62" rx="16" ry="10" fill="#777"/><path d="M372 230 Q415 250 458 225 L455 262 Q415 280 375 265 Z" fill="#d8dadc" stroke="#444" stroke-width="4"/>
<g transform="translate(0 0)"><rect x="25" y="650" width="215" height="150" fill="#e4e6e8" stroke="#555" stroke-width="5"/><path d="M60 640 Q25 600 100 560 L150 545 L130 620 Z" fill="#1a1a1a"/><path d="M140 545 L250 545 L262 640 L240 660 L150 660 L128 640 Z" fill="url(#pipeg)" stroke="#333" stroke-width="5"/><ellipse cx="195" cy="582" rx="58" ry="38" fill="#9a9c9e" stroke="#222" stroke-width="6"/><ellipse cx="195" cy="585" rx="38" ry="22" fill="#555"/><path d="M55 655 Q60 730 165 735 L160 765 L240 720 L170 670 L168 700 Q110 700 95 650 Z" fill="#ee1c25"/></g>
<g transform="translate(375 0)"><rect x="25" y="650" width="215" height="150" fill="#e4e6e8" stroke="#555" stroke-width="5"/><path d="M60 640 Q25 600 100 560 L150 545 L130 620 Z" fill="#1a1a1a"/><path d="M140 545 L250 545 L262 640 L240 660 L150 660 L128 640 Z" fill="url(#pipeg)" stroke="#333" stroke-width="5"/><ellipse cx="195" cy="582" rx="58" ry="38" fill="#9a9c9e" stroke="#222" stroke-width="6"/><ellipse cx="195" cy="585" rx="38" ry="22" fill="#555"/><path d="M55 655 Q60 730 165 735 L160 765 L240 720 L170 670 L168 700 Q110 700 95 650 Z" fill="#ee1c25"/></g>
</g></g>
<rect x="3198.2" y="469.4" width="134.3" height="100.0" fill="#fff" stroke="#1a78c4" stroke-width="2.5"/>
<clipPath id="cG3"><rect x="3199.5" y="470.7" width="131.8" height="97.5"/></clipPath>
<g clip-path="url(#cG3)"><g transform="translate(3180 460) scale(0.12583) translate(135 65)">
<rect x="685" y="0" width="285" height="135" fill="url(#pipeg)"/><rect x="660" y="132" width="335" height="38" fill="#d0d2d4" stroke="#555" stroke-width="5"/><rect x="685" y="170" width="285" height="135" fill="#6e7072"/><path d="M685 205 L970 180 L970 198 L685 223 Z" fill="#d4d6d8" stroke="#444" stroke-width="3"/><path d="M685 237 L970 212 L970 230 L685 255 Z" fill="#d4d6d8" stroke="#444" stroke-width="3"/><path d="M685 269 L970 244 L970 262 L685 287 Z" fill="#d4d6d8" stroke="#444" stroke-width="3"/><path d="M685 301 L970 276 L970 294 L685 319 Z" fill="#d4d6d8" stroke="#444" stroke-width="3"/><path d="M1000 150 H1050 M960 300 H1050 M1045 150 V425 M1015 145 l30 30 M1015 295 l30 30" stroke="#666" stroke-width="3" fill="none"/><ellipse cx="552" cy="245" rx="58" ry="98" fill="#e8e9ea" stroke="#444" stroke-width="5" transform="rotate(-18 552 245)"/><ellipse cx="540" cy="250" rx="42" ry="78" fill="#d4d6d8" stroke="#666" stroke-width="4" transform="rotate(-18 540 250)"/><path d="M365 245 L440 240 L520 200 L560 290 L470 330 Q420 360 410 440 L405 480 L310 470 L320 400 Q340 320 365 300 Z" fill="url(#tapg)" stroke="#444" stroke-width="5"/><path d="M305 440 L412 455 L408 500 Q360 520 312 495 Z" fill="#444" stroke="#222" stroke-width="4"/><path d="M405 37 L470 70 L485 90 L455 225 L375 232 L330 100 L340 75 Z" fill="url(#tapg)" stroke="#444" stroke-width="5"/><ellipse cx="408" cy="62" rx="16" ry="10" fill="#777"/><path d="M372 230 Q415 250 458 225 L455 262 Q415 280 375 265 Z" fill="#d8dadc" stroke="#444" stroke-width="4"/>
<rect x="310" y="620" width="105" height="200" fill="url(#pipeg)" stroke="#444" stroke-width="4"/>
<path d="M240 640 Q200 590 290 560 L310 620 Z" fill="#1a1a1a"/>
<path d="M285 575 L300 555 L420 555 L450 575 L445 620 L420 645 L310 645 L285 620 Z" fill="#d0d2d4" stroke="#444" stroke-width="5"/>
<ellipse cx="362" cy="585" rx="58" ry="36" fill="#e0e2e4" stroke="#444" stroke-width="5"/><ellipse cx="362" cy="590" rx="40" ry="22" fill="#777"/>
<path d="M222 650 Q230 725 330 735 L328 770 L410 715 L335 660 L335 692 Q275 690 262 640 Z" fill="#ee1c25"/>
</g></g>
<rect x="3197.4" y="576.4" width="135.0" height="99.2" fill="#dcdddd" stroke="#1a78c4" stroke-width="2.8"/>
<clipPath id="cG4"><rect x="3198.8" y="577.8" width="132.2" height="96.4"/></clipPath>
<g clip-path="url(#cG4)"><g transform="translate(3180 570) scale(0.12583)">
<rect x="860" y="60" width="350" height="790" fill="url(#sideg)"/>
<path d="M430 60 L1210 60 L1210 170 L870 292 L835 280 Z" fill="#e4e5e5"/>
<path d="M650 60 L1210 60 L1210 98 L880 165 Z" fill="#b4b5b6"/>
<path d="M430 60 L835 280 L870 292" fill="none" stroke="#666" stroke-width="4"/>
<path d="M150 440 L830 820" stroke="#f2f2f2" stroke-width="8"/>
<path d="M630 200 L800 290 L800 480 L745 505 L630 440 Z" fill="#8e9091" stroke="#555" stroke-width="4"/><path d="M650 230 L780 300 L780 470 L650 400 Z" fill="#b8babb"/>
<circle cx="582" cy="196" r="21" fill="#2a2a2a"/><circle cx="795" cy="540" r="21" fill="#2a2a2a"/>
<path d="M610 330 L700 290 Q760 300 765 370 Q760 440 715 465 L640 460 Q600 400 610 330 Z" fill="#d8dadb" stroke="#555" stroke-width="4"/>
<path d="M640 320 Q620 390 655 455 M665 308 Q645 385 680 455 M690 298 Q670 380 705 452 M715 292 Q700 375 728 445" stroke="#777" stroke-width="5" fill="none"/>
<path d="M265 830 L262 650 Q262 560 330 520 L400 490 L440 560 L385 590 Q355 610 355 660 L355 830 Z" fill="url(#tapg)" stroke="#555" stroke-width="5"/>
<path d="M258 650 L358 650 L358 690 L258 690 Z M258 720 H358" fill="#c8cacb" stroke="#555" stroke-width="4"/>
<path d="M320 440 Q350 400 400 410 Q470 440 485 520 L490 600 L440 635 L400 600 Q420 520 380 480 Q350 470 320 500 Z" fill="#a8aaab" stroke="#555" stroke-width="5"/>
<path d="M240 440 Q270 385 330 375 L300 420 Z" fill="#555"/>
<path d="M345 355 Q420 330 480 360 L520 395 L550 350 L520 440 L600 395 L590 365 L660 390 L600 490 L590 465 L490 510 Q470 450 430 430 L470 400 L400 405 L420 375 Z" fill="#e0202e"/>
</g></g>
<rect x="3197.4" y="576.4" width="135.0" height="99.2" fill="none" stroke="#1a78c4" stroke-width="2.8"/>
<rect x="3195.9" y="722.0" width="134.1" height="98.8" fill="#fff" stroke="#1a78c4" stroke-width="1.9"/>
<clipPath id="cH1"><rect x="3196.9" y="722.9" width="132.2" height="96.9"/></clipPath>
<g clip-path="url(#cH1)"><g transform="translate(3180 712) scale(0.12583)">
<path d="M100 440 Q400 190 560 110 Q650 75 740 110 Q900 190 1230 440 L1230 600 Q900 330 740 245 Q650 200 560 245 Q400 330 100 600 Z" fill="url(#hoseg)" stroke="#444" stroke-width="5"/>
<path d="M130 430 Q400 205 565 130 Q650 95 735 130 Q900 205 1200 430" fill="none" stroke="#f0f1f2" stroke-width="10"/>
<path d="M447 700 L447 520 Q455 400 600 350 Q610 335 660 345 Q715 335 722 350 Q870 400 878 520 L878 700 L840 700 L830 540 Q800 420 662 420 Q520 420 490 540 L485 700 Z" fill="#f4f5f6" stroke="#555" stroke-width="5"/>
<path d="M360 740 L360 790 Q365 850 430 852 Q505 850 510 790 L510 580 Q520 460 662 455 Q805 460 815 580 L815 790 Q820 850 895 852 Q960 850 965 790 L965 745 L880 745 L880 560 Q870 400 662 395 Q455 400 447 560 L447 745 Z" fill="#e2e4e6" stroke="#555" stroke-width="5"/>
<path d="M400 680 L447 680 L447 750 L380 770 L375 700 Z" fill="#c0c2c4" stroke="#666" stroke-width="4"/><path d="M880 680 L925 680 L950 700 L948 770 L880 750 Z" fill="#c0c2c4" stroke="#666" stroke-width="4"/>
<path d="M625 208 L692 208 L692 290 L740 290 L660 372 L583 290 L625 290 Z" fill="#d8202e"/>
<path d="M185 520 L232 488 L372 640 L398 600 L402 710 L285 708 L328 676 Z" fill="#d8202e"/>
<path d="M185 520 L232 488 L372 640 L398 600 L402 710 L285 708 L328 676 Z" fill="#d8202e" transform="translate(1324 0) scale(-1 1)"/>
</g></g>
<rect x="3197.4" y="829.6" width="131.2" height="96.0" fill="#fff" stroke="#1a78c4" stroke-width="2.8"/>
<clipPath id="cH2"><rect x="3198.8" y="831.0" width="128.4" height="93.2"/></clipPath>
<g clip-path="url(#cH2)"><g transform="translate(3180 820) scale(0.12583)">
<rect x="100" y="0" width="1150" height="1100" fill="#eef0f2"/><path d="M-110 0 V1100" stroke="#b4b6b8" stroke-width="5"/><path d="M15 0 V1100" stroke="#b4b6b8" stroke-width="5"/><path d="M140 0 V1100" stroke="#b4b6b8" stroke-width="5"/><path d="M265 0 V1100" stroke="#b4b6b8" stroke-width="5"/><path d="M390 0 V1100" stroke="#b4b6b8" stroke-width="5"/><path d="M515 0 V1100" stroke="#b4b6b8" stroke-width="5"/><path d="M640 0 V1100" stroke="#b4b6b8" stroke-width="5"/><path d="M765 0 V1100" stroke="#b4b6b8" stroke-width="5"/><path d="M890 0 V1100" stroke="#b4b6b8" stroke-width="5"/><path d="M1015 0 V1100" stroke="#b4b6b8" stroke-width="5"/><path d="M1140 0 V1100" stroke="#b4b6b8" stroke-width="5"/><path d="M1265 0 V1100" stroke="#b4b6b8" stroke-width="5"/><path d="M1390 0 V1100" stroke="#b4b6b8" stroke-width="5"/><path d="M1515 0 V1100" stroke="#b4b6b8" stroke-width="5"/><path d="M100 -670 L1250 -340" stroke="#b4b6b8" stroke-width="5"/><path d="M100 -550 L1250 -220" stroke="#b4b6b8" stroke-width="5"/><path d="M100 -430 L1250 -100" stroke="#b4b6b8" stroke-width="5"/><path d="M100 -310 L1250 20" stroke="#b4b6b8" stroke-width="5"/><path d="M100 -190 L1250 140" stroke="#b4b6b8" stroke-width="5"/><path d="M100 -70 L1250 260" stroke="#b4b6b8" stroke-width="5"/><path d="M100 50 L1250 380" stroke="#b4b6b8" stroke-width="5"/><path d="M100 170 L1250 500" stroke="#b4b6b8" stroke-width="5"/><path d="M100 290 L1250 620" stroke="#b4b6b8" stroke-width="5"/><path d="M100 410 L1250 740" stroke="#b4b6b8" stroke-width="5"/><path d="M100 530 L1250 860" stroke="#b4b6b8" stroke-width="5"/><path d="M100 650 L1250 980" stroke="#b4b6b8" stroke-width="5"/><path d="M100 770 L1250 1100" stroke="#b4b6b8" stroke-width="5"/><path d="M100 890 L1250 1220" stroke="#b4b6b8" stroke-width="5"/><path d="M100 1010 L1250 1340" stroke="#b4b6b8" stroke-width="5"/><path d="M100 1130 L1250 1460" stroke="#b4b6b8" stroke-width="5"/><path d="M100 1250 L1250 1580" stroke="#b4b6b8" stroke-width="5"/><path d="M100 1370 L1250 1700" stroke="#b4b6b8" stroke-width="5"/><path d="M100 1490 L1250 1820" stroke="#b4b6b8" stroke-width="5"/><path d="M100 1610 L1250 1940" stroke="#b4b6b8" stroke-width="5"/><path d="M1040 620 L1130 570 L1165 590 L1165 700 L1120 720 L1040 680 Z" fill="#8a8c8e" stroke="#444" stroke-width="4"/><circle cx="1062" cy="655" r="8" fill="#222"/><path d="M280 520 Q330 640 560 740 Q800 800 960 730 L1040 680 L1040 640 L700 640 Z" fill="#8e9092" stroke="#444" stroke-width="4"/><path d="M555 740 Q600 790 700 790 Q760 790 790 770 L790 900 L570 900 Z" fill="#b0b2b4" stroke="#555" stroke-width="4"/><path d="M520 205 L1170 420 L1170 500 L960 690 Q800 740 640 690 Q420 620 270 480 Q215 400 250 350 Z" fill="#c6c8ca" stroke="#333" stroke-width="5"/><path d="M250 350 Q215 400 270 480 Q420 620 640 690 Q800 740 960 690 L1170 500" fill="none" stroke="#eee" stroke-width="7"/><path d="M560 245 Q350 330 320 390 Q330 450 480 540 Q650 630 820 640 Q930 630 1010 560" fill="none" stroke="#8a8c8e" stroke-width="4"/><path d="M470 280 L1000 465 Q1050 500 1020 550 Q960 620 800 610 Q640 590 540 500 Q450 400 455 320 Q455 285 470 280 Z" fill="#a9abad" stroke="#666" stroke-width="4"/><ellipse cx="640" cy="578" rx="55" ry="32" fill="#d4d6d8" stroke="#555" stroke-width="4"/><ellipse cx="642" cy="582" rx="38" ry="20" fill="#777"/><rect x="715" y="408" width="68" height="28" rx="12" fill="#777" stroke="#444" stroke-width="4" transform="rotate(18 750 420)"/>
<path d="M610 250 Q600 110 700 95 Q800 95 810 250" fill="none" stroke="#555" stroke-width="30"/><path d="M610 250 Q600 110 700 95 Q800 95 810 250" fill="none" stroke="#d8dadc" stroke-width="20"/><ellipse cx="680" cy="295" rx="50" ry="20" fill="#d0d2d4" stroke="#444" stroke-width="4"/><rect x="655" y="200" width="45" height="90" fill="url(#pipeg)" stroke="#444" stroke-width="4"/><path d="M640 175 L725 170 L728 200 L642 208 Z" fill="#b0b2b4" stroke="#444" stroke-width="4"/><ellipse cx="785" cy="335" rx="45" ry="18" fill="#d0d2d4" stroke="#444" stroke-width="4"/><rect x="768" y="245" width="40" height="85" fill="url(#pipeg)" stroke="#444" stroke-width="4"/><ellipse cx="900" cy="380" rx="52" ry="20" fill="#d0d2d4" stroke="#444" stroke-width="4"/><rect x="870" y="290" width="55" height="88" fill="url(#pipeg)" stroke="#444" stroke-width="4"/><path d="M845 255 L950 245 L955 285 L850 295 Z" fill="#b0b2b4" stroke="#444" stroke-width="4"/>
<path d="M790 330 L905 600" stroke="#eee" stroke-width="6"/>
<path d="M805 640 Q810 575 860 575 Q910 590 920 680 L925 830" fill="none" stroke="#666" stroke-width="34"/><path d="M805 640 Q810 575 860 575 Q910 590 920 680 L925 830" fill="none" stroke="#f4f4f4" stroke-width="22"/>
</g></g>
<rect x="3197.4" y="829.6" width="131.2" height="96.0" fill="none" stroke="#1a78c4" stroke-width="2.8"/>
<rect x="3195.1" y="953.4" width="132.8" height="100.2" fill="#fff" stroke="#1a78c4" stroke-width="2.2"/>
<clipPath id="cH3"><rect x="3196.2" y="954.5" width="130.6" height="98.0"/></clipPath>
<g clip-path="url(#cH3)"><g transform="translate(3180 945) scale(0.12583)">
<g transform="translate(-5 -175)"><rect x="100" y="0" width="1150" height="1100" fill="#eef0f2"/><path d="M-110 0 V1100" stroke="#b4b6b8" stroke-width="5"/><path d="M15 0 V1100" stroke="#b4b6b8" stroke-width="5"/><path d="M140 0 V1100" stroke="#b4b6b8" stroke-width="5"/><path d="M265 0 V1100" stroke="#b4b6b8" stroke-width="5"/><path d="M390 0 V1100" stroke="#b4b6b8" stroke-width="5"/><path d="M515 0 V1100" stroke="#b4b6b8" stroke-width="5"/><path d="M640 0 V1100" stroke="#b4b6b8" stroke-width="5"/><path d="M765 0 V1100" stroke="#b4b6b8" stroke-width="5"/><path d="M890 0 V1100" stroke="#b4b6b8" stroke-width="5"/><path d="M1015 0 V1100" stroke="#b4b6b8" stroke-width="5"/><path d="M1140 0 V1100" stroke="#b4b6b8" stroke-width="5"/><path d="M1265 0 V1100" stroke="#b4b6b8" stroke-width="5"/><path d="M1390 0 V1100" stroke="#b4b6b8" stroke-width="5"/><path d="M1515 0 V1100" stroke="#b4b6b8" stroke-width="5"/><path d="M100 -670 L1250 -340" stroke="#b4b6b8" stroke-width="5"/><path d="M100 -550 L1250 -220" stroke="#b4b6b8" stroke-width="5"/><path d="M100 -430 L1250 -100" stroke="#b4b6b8" stroke-width="5"/><path d="M100 -310 L1250 20" stroke="#b4b6b8" stroke-width="5"/><path d="M100 -190 L1250 140" stroke="#b4b6b8" stroke-width="5"/><path d="M100 -70 L1250 260" stroke="#b4b6b8" stroke-width="5"/><path d="M100 50 L1250 380" stroke="#b4b6b8" stroke-width="5"/><path d="M100 170 L1250 500" stroke="#b4b6b8" stroke-width="5"/><path d="M100 290 L1250 620" stroke="#b4b6b8" stroke-width="5"/><path d="M100 410 L1250 740" stroke="#b4b6b8" stroke-width="5"/><path d="M100 530 L1250 860" stroke="#b4b6b8" stroke-width="5"/><path d="M100 650 L1250 980" stroke="#b4b6b8" stroke-width="5"/><path d="M100 770 L1250 1100" stroke="#b4b6b8" stroke-width="5"/><path d="M100 890 L1250 1220" stroke="#b4b6b8" stroke-width="5"/><path d="M100 1010 L1250 1340" stroke="#b4b6b8" stroke-width="5"/><path d="M100 1130 L1250 1460" stroke="#b4b6b8" stroke-width="5"/><path d="M100 1250 L1250 1580" stroke="#b4b6b8" stroke-width="5"/><path d="M100 1370 L1250 1700" stroke="#b4b6b8" stroke-width="5"/><path d="M100 1490 L1250 1820" stroke="#b4b6b8" stroke-width="5"/><path d="M100 1610 L1250 1940" stroke="#b4b6b8" stroke-width="5"/><path d="M1040 620 L1130 570 L1165 590 L1165 700 L1120 720 L1040 680 Z" fill="#8a8c8e" stroke="#444" stroke-width="4"/><circle cx="1062" cy="655" r="8" fill="#222"/><path d="M280 520 Q330 640 560 740 Q800 800 960 730 L1040 680 L1040 640 L700 640 Z" fill="#8e9092" stroke="#444" stroke-width="4"/><path d="M555 740 Q600 790 700 790 Q760 790 790 770 L790 900 L570 900 Z" fill="#b0b2b4" stroke="#555" stroke-width="4"/><path d="M520 205 L1170 420 L1170 500 L960 690 Q800 740 640 690 Q420 620 270 480 Q215 400 250 350 Z" fill="#c6c8ca" stroke="#333" stroke-width="5"/><path d="M250 350 Q215 400 270 480 Q420 620 640 690 Q800 740 960 690 L1170 500" fill="none" stroke="#eee" stroke-width="7"/><path d="M560 245 Q350 330 320 390 Q330 450 480 540 Q650 630 820 640 Q930 630 1010 560" fill="none" stroke="#8a8c8e" stroke-width="4"/><path d="M470 280 L1000 465 Q1050 500 1020 550 Q960 620 800 610 Q640 590 540 500 Q450 400 455 320 Q455 285 470 280 Z" fill="#a9abad" stroke="#666" stroke-width="4"/><ellipse cx="640" cy="578" rx="55" ry="32" fill="#d4d6d8" stroke="#555" stroke-width="4"/><ellipse cx="642" cy="582" rx="38" ry="20" fill="#777"/><rect x="715" y="408" width="68" height="28" rx="12" fill="#777" stroke="#444" stroke-width="4" transform="rotate(18 750 420)"/><path d="M610 250 Q600 110 700 95 Q800 95 810 250" fill="none" stroke="#555" stroke-width="30"/><path d="M610 250 Q600 110 700 95 Q800 95 810 250" fill="none" stroke="#d8dadc" stroke-width="20"/><ellipse cx="680" cy="295" rx="50" ry="20" fill="#d0d2d4" stroke="#444" stroke-width="4"/><rect x="655" y="200" width="45" height="90" fill="url(#pipeg)" stroke="#444" stroke-width="4"/><path d="M640 175 L725 170 L728 200 L642 208 Z" fill="#b0b2b4" stroke="#444" stroke-width="4"/><ellipse cx="785" cy="335" rx="45" ry="18" fill="#d0d2d4" stroke="#444" stroke-width="4"/><rect x="768" y="245" width="40" height="85" fill="url(#pipeg)" stroke="#444" stroke-width="4"/><ellipse cx="900" cy="380" rx="52" ry="20" fill="#d0d2d4" stroke="#444" stroke-width="4"/><rect x="870" y="290" width="55" height="88" fill="url(#pipeg)" stroke="#444" stroke-width="4"/><path d="M845 255 L950 245 L955 285 L850 295 Z" fill="#b0b2b4" stroke="#444" stroke-width="4"/></g>
<rect x="585" y="635" width="100" height="70" fill="url(#tapg)" stroke="#444" stroke-width="4"/><rect x="572" y="705" width="122" height="110" fill="url(#tapg)" stroke="#444" stroke-width="4"/><rect x="592" y="815" width="85" height="60" fill="url(#tapg)" stroke="#444" stroke-width="4"/>
<path d="M690 830 Q720 770 790 790 L800 860 L700 870 Z" fill="#c8cacc" stroke="#444" stroke-width="4"/>
<path d="M125 500 L320 600" stroke="#555" stroke-width="50"/><path d="M125 500 L320 600" stroke="#a4a6a8" stroke-width="40"/><path d="M270 575 L325 602" stroke="#6e7072" stroke-width="46"/>
<path d="M330 620 L470 755" stroke="#e8284a" stroke-width="16"/>
<path d="M395 640 L440 620 L455 650 L430 740 L395 735 L375 690 Z" fill="#333"/>
<path d="M480 750 L585 815" stroke="#555" stroke-width="44"/><path d="M480 750 L585 815" stroke="#b4b6b8" stroke-width="34"/>
</g></g>
<rect x="3195.1" y="953.4" width="132.8" height="100.2" fill="none" stroke="#1a78c4" stroke-width="2.2"/>
</svg>

</body></html>
